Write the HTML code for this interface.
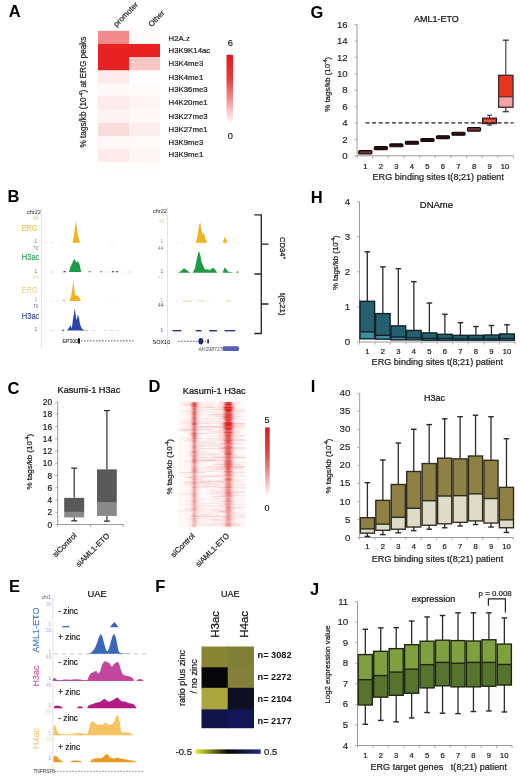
<!DOCTYPE html>
<html><head><meta charset="utf-8"><title>Figure</title>
<style>html,body{margin:0;padding:0;background:#fff;width:520px;height:776px;overflow:hidden;font-family:"Liberation Sans", sans-serif;} svg{display:block;filter:blur(0.35px);}</style>
</head><body>
<svg width="520" height="776" viewBox="0 0 520 776" font-family='"Liberation Sans", sans-serif'><defs><linearGradient id="gA" x1="0" y1="0" x2="0" y2="1"><stop offset="0" stop-color="#e81818"/><stop offset="0.35" stop-color="#e63c3c"/><stop offset="0.62" stop-color="#ef8a8a"/><stop offset="0.85" stop-color="#fad2d2"/><stop offset="1" stop-color="#ffffff"/></linearGradient><filter id="bl" x="-80%" y="-5%" width="260%" height="110%"><feGaussianBlur stdDeviation="0.8 0.3"/></filter><filter id="bl2" x="-80%" y="-5%" width="260%" height="110%"><feGaussianBlur stdDeviation="2.0 0.4"/></filter><linearGradient id="gD" x1="0" y1="0" x2="0" y2="1"><stop offset="0" stop-color="#dc1c1c"/><stop offset="0.35" stop-color="#e04040"/><stop offset="0.62" stop-color="#ec8a8a"/><stop offset="0.85" stop-color="#f8d0d4"/><stop offset="1" stop-color="#ffffff"/></linearGradient><linearGradient id="gF" x1="0" y1="0" x2="1" y2="0"><stop offset="0" stop-color="#e8ee30"/><stop offset="0.5" stop-color="#050505"/><stop offset="1" stop-color="#232a78"/></linearGradient></defs><rect width="520" height="776" fill="#fff"/><text x="8.7" y="17" font-size="16.5" fill="#000" text-anchor="start" font-weight="bold" >A</text>
<text x="7.4" y="201.5" font-size="16.5" fill="#000" text-anchor="start" font-weight="bold" >B</text>
<text x="7.5" y="393.7" font-size="16.5" fill="#000" text-anchor="start" font-weight="bold" >C</text>
<text x="148.5" y="392" font-size="16.5" fill="#000" text-anchor="start" font-weight="bold" >D</text>
<text x="9.1" y="592.2" font-size="16.5" fill="#000" text-anchor="start" font-weight="bold" >E</text>
<text x="155.3" y="592.3" font-size="16.5" fill="#000" text-anchor="start" font-weight="bold" >F</text>
<text x="310.6" y="18" font-size="16.5" fill="#000" text-anchor="start" font-weight="bold" >G</text>
<text x="310.7" y="203.2" font-size="16.5" fill="#000" text-anchor="start" font-weight="bold" >H</text>
<text x="310.65" y="392" font-size="16.5" fill="#000" text-anchor="start" font-weight="bold" >I</text>
<text x="310" y="594.5" font-size="16.5" fill="#000" text-anchor="start" font-weight="bold" >J</text>
<rect x="98.00" y="30.80" width="31.00" height="14.13" fill="#f28c8c" stroke="none" stroke-width="0" />
<rect x="129.00" y="30.80" width="31.00" height="14.13" fill="#fffbfb" stroke="none" stroke-width="0" />
<text x="168.6" y="41.3" font-size="7.8" fill="#222" text-anchor="start" font-weight="normal" stroke="#222" stroke-width="0.22" >H2A.z</text>
<rect x="98.00" y="43.93" width="31.00" height="14.13" fill="#e82222" stroke="none" stroke-width="0" />
<rect x="129.00" y="43.93" width="31.00" height="14.13" fill="#e82222" stroke="none" stroke-width="0" />
<text x="168.6" y="53.199999999999996" font-size="7.8" fill="#222" text-anchor="start" font-weight="normal" stroke="#222" stroke-width="0.22" >H3K9K14ac</text>
<rect x="98.00" y="57.06" width="31.00" height="14.13" fill="#e82222" stroke="none" stroke-width="0" />
<rect x="129.00" y="57.06" width="31.00" height="14.13" fill="#f9c6c6" stroke="none" stroke-width="0" />
<text x="168.6" y="66.3" font-size="7.8" fill="#222" text-anchor="start" font-weight="normal" stroke="#222" stroke-width="0.22" >H3K4me3</text>
<rect x="98.00" y="70.19" width="31.00" height="14.13" fill="#fdeaea" stroke="none" stroke-width="0" />
<rect x="129.00" y="70.19" width="31.00" height="14.13" fill="#fffdfd" stroke="none" stroke-width="0" />
<text x="168.6" y="79.60000000000001" font-size="7.8" fill="#222" text-anchor="start" font-weight="normal" stroke="#222" stroke-width="0.22" >H3K4me1</text>
<rect x="98.00" y="83.32" width="31.00" height="14.13" fill="#fff8f8" stroke="none" stroke-width="0" />
<rect x="129.00" y="83.32" width="31.00" height="14.13" fill="#fffbfb" stroke="none" stroke-width="0" />
<text x="168.6" y="92.30000000000001" font-size="7.8" fill="#222" text-anchor="start" font-weight="normal" stroke="#222" stroke-width="0.22" >H3K36me3</text>
<rect x="98.00" y="96.45" width="31.00" height="14.13" fill="#fdeaea" stroke="none" stroke-width="0" />
<rect x="129.00" y="96.45" width="31.00" height="14.13" fill="#fef4f4" stroke="none" stroke-width="0" />
<text x="168.6" y="105.4" font-size="7.8" fill="#222" text-anchor="start" font-weight="normal" stroke="#222" stroke-width="0.22" >H4K20me1</text>
<rect x="98.00" y="109.58" width="31.00" height="14.13" fill="#fef3f3" stroke="none" stroke-width="0" />
<rect x="129.00" y="109.58" width="31.00" height="14.13" fill="#fff8f8" stroke="none" stroke-width="0" />
<text x="168.6" y="119.2" font-size="7.8" fill="#222" text-anchor="start" font-weight="normal" stroke="#222" stroke-width="0.22" >H3K27me3</text>
<rect x="98.00" y="122.71" width="31.00" height="14.13" fill="#fbdcdc" stroke="none" stroke-width="0" />
<rect x="129.00" y="122.71" width="31.00" height="14.13" fill="#fdeeee" stroke="none" stroke-width="0" />
<text x="168.6" y="132.3" font-size="7.8" fill="#222" text-anchor="start" font-weight="normal" stroke="#222" stroke-width="0.22" >H3K27me1</text>
<rect x="98.00" y="135.84" width="31.00" height="14.13" fill="#fff7f7" stroke="none" stroke-width="0" />
<rect x="129.00" y="135.84" width="31.00" height="14.13" fill="#fffafa" stroke="none" stroke-width="0" />
<text x="168.6" y="145.20000000000002" font-size="7.8" fill="#222" text-anchor="start" font-weight="normal" stroke="#222" stroke-width="0.22" >H3K9me3</text>
<rect x="98.00" y="148.97" width="31.00" height="13.13" fill="#fdeaea" stroke="none" stroke-width="0" />
<rect x="129.00" y="148.97" width="31.00" height="13.13" fill="#fef5f5" stroke="none" stroke-width="0" />
<text x="168.6" y="156.8" font-size="7.8" fill="#222" text-anchor="start" font-weight="normal" stroke="#222" stroke-width="0.22" >H3K9me1</text>
<rect x="98.00" y="162.10" width="62.00" height="13.13" fill="#fffcfc" stroke="none" stroke-width="0" />
<text x="116.6" y="27.2" font-size="7.8" fill="#222" text-anchor="start" font-weight="normal" stroke="#222" stroke-width="0.22" transform="rotate(-45 116.6 27.2)">promoter</text>
<text x="151.4" y="27.2" font-size="7.8" fill="#222" text-anchor="start" font-weight="normal" stroke="#222" stroke-width="0.22" transform="rotate(-45 151.4 27.2)">Other</text>
<text x="86" y="92" font-size="8.2" fill="#222" text-anchor="middle" font-weight="normal" stroke="#222" stroke-width="0.22" transform="rotate(-90 86 92)">% tags/kb (10<tspan font-size="5.5" dy="-3">-4</tspan><tspan dy="3">) at ERG peaks</tspan></text>
<rect x="226.50" y="54.80" width="6.50" height="69.00" fill="url(#gA)" stroke="none" stroke-width="0" />
<text x="230.3" y="46" font-size="9.3" fill="#222" text-anchor="middle" font-weight="normal" stroke="#222" stroke-width="0.22" >6</text>
<text x="230.3" y="138.7" font-size="9.3" fill="#222" text-anchor="middle" font-weight="normal" stroke="#222" stroke-width="0.22" >0</text>
<line x1="41.50" y1="207.00" x2="41.50" y2="348.00" stroke="#e2ddd0" stroke-width="0.8" />
<line x1="167.50" y1="207.00" x2="167.50" y2="348.00" stroke="#e2ddd0" stroke-width="0.8" />
<text x="27" y="213.5" font-size="5.5" fill="#333" text-anchor="start" font-weight="normal" stroke="#333" stroke-width="0.05" >chr22</text>
<text x="153" y="212.5" font-size="5.5" fill="#333" text-anchor="start" font-weight="normal" stroke="#333" stroke-width="0.05" >chr22</text>
<text x="21.8" y="231.1" font-size="8.2" fill="#efc04a" text-anchor="start" font-weight="normal" stroke="#efc04a" stroke-width="0.1" textLength="15.6" lengthAdjust="spacingAndGlyphs">ERG</text>
<text x="21.8" y="260.3" font-size="8.2" fill="#239450" text-anchor="start" font-weight="normal" stroke="#239450" stroke-width="0.1" textLength="17.6" lengthAdjust="spacingAndGlyphs">H3ac</text>
<text x="21.8" y="292.6" font-size="8.2" fill="#ecd088" text-anchor="start" font-weight="normal" stroke="#ecd088" stroke-width="0.1" textLength="15.6" lengthAdjust="spacingAndGlyphs">ERG</text>
<text x="21.8" y="319.0" font-size="8.2" fill="#2c3f8c" text-anchor="start" font-weight="normal" stroke="#2c3f8c" stroke-width="0.1" textLength="17.6" lengthAdjust="spacingAndGlyphs">H3ac</text>
<text x="33" y="220" font-size="4.8" fill="#e2c878" text-anchor="start" font-weight="normal" >84</text>
<text x="34.5" y="243" font-size="4.8" fill="#777" text-anchor="start" font-weight="normal" >1</text>
<text x="33" y="249.5" font-size="4.8" fill="#5a9a78" text-anchor="start" font-weight="normal" >70</text>
<text x="34.5" y="272.5" font-size="4.8" fill="#666" text-anchor="start" font-weight="normal" >1</text>
<text x="33" y="279" font-size="4.8" fill="#e8d498" text-anchor="start" font-weight="normal" >84</text>
<text x="34.5" y="301" font-size="4.8" fill="#999" text-anchor="start" font-weight="normal" >1</text>
<text x="33" y="308" font-size="4.8" fill="#6070a8" text-anchor="start" font-weight="normal" >70</text>
<text x="34.5" y="331" font-size="4.8" fill="#666" text-anchor="start" font-weight="normal" >1</text>
<text x="159" y="223" font-size="4.8" fill="#e2d0a0" text-anchor="start" font-weight="normal" >42</text>
<text x="160.5" y="243" font-size="4.8" fill="#999" text-anchor="start" font-weight="normal" >1</text>
<text x="158" y="250" font-size="4.8" fill="#5a9a78" text-anchor="start" font-weight="normal" >44</text>
<text x="160.5" y="273" font-size="4.8" fill="#666" text-anchor="start" font-weight="normal" >1</text>
<text x="158" y="278.5" font-size="4.8" fill="#e8dcb8" text-anchor="start" font-weight="normal" >42</text>
<text x="160.5" y="302" font-size="4.8" fill="#aaa" text-anchor="start" font-weight="normal" >1</text>
<text x="158" y="307" font-size="4.8" fill="#555" text-anchor="start" font-weight="normal" >44</text>
<text x="160.5" y="331.5" font-size="4.8" fill="#555" text-anchor="start" font-weight="normal" >1</text>
<line x1="44.00" y1="242.70" x2="47.59" y2="242.70" stroke="#f6e6b8" stroke-width="0.8" />
<line x1="50.00" y1="242.70" x2="53.71" y2="242.70" stroke="#f6e6b8" stroke-width="0.8" />
<line x1="62.00" y1="242.70" x2="64.53" y2="242.70" stroke="#f6e6b8" stroke-width="0.8" />
<line x1="74.00" y1="242.70" x2="76.97" y2="242.70" stroke="#f6e6b8" stroke-width="0.8" />
<line x1="110.00" y1="242.70" x2="113.77" y2="242.70" stroke="#f6e6b8" stroke-width="0.8" />
<line x1="50.00" y1="272.00" x2="54.02" y2="272.00" stroke="#e0e0e0" stroke-width="0.8" />
<line x1="62.00" y1="272.00" x2="64.56" y2="272.00" stroke="#e0e0e0" stroke-width="0.8" />
<line x1="104.00" y1="272.00" x2="108.10" y2="272.00" stroke="#e0e0e0" stroke-width="0.8" />
<line x1="110.00" y1="272.00" x2="114.37" y2="272.00" stroke="#e0e0e0" stroke-width="0.8" />
<line x1="122.00" y1="272.00" x2="124.77" y2="272.00" stroke="#e0e0e0" stroke-width="0.8" />
<line x1="128.00" y1="272.00" x2="132.43" y2="272.00" stroke="#e0e0e0" stroke-width="0.8" />
<line x1="44.00" y1="301.00" x2="47.75" y2="301.00" stroke="#f6ecd0" stroke-width="0.8" />
<line x1="50.00" y1="301.00" x2="53.51" y2="301.00" stroke="#f6ecd0" stroke-width="0.8" />
<line x1="56.00" y1="301.00" x2="59.20" y2="301.00" stroke="#f6ecd0" stroke-width="0.8" />
<line x1="110.00" y1="301.00" x2="114.22" y2="301.00" stroke="#f6ecd0" stroke-width="0.8" />
<line x1="50.00" y1="330.50" x2="54.16" y2="330.50" stroke="#d4d8ea" stroke-width="0.8" />
<line x1="62.00" y1="330.50" x2="64.63" y2="330.50" stroke="#d4d8ea" stroke-width="0.8" />
<line x1="80.00" y1="330.50" x2="84.10" y2="330.50" stroke="#d4d8ea" stroke-width="0.8" />
<line x1="86.00" y1="330.50" x2="88.80" y2="330.50" stroke="#d4d8ea" stroke-width="0.8" />
<line x1="92.00" y1="330.50" x2="96.04" y2="330.50" stroke="#d4d8ea" stroke-width="0.8" />
<line x1="104.00" y1="330.50" x2="107.73" y2="330.50" stroke="#d4d8ea" stroke-width="0.8" />
<line x1="110.00" y1="330.50" x2="113.94" y2="330.50" stroke="#d4d8ea" stroke-width="0.8" />
<line x1="116.00" y1="330.50" x2="120.26" y2="330.50" stroke="#d4d8ea" stroke-width="0.8" />
<polygon points="72.40,242.70 74.00,235.00 75.90,220.40 77.80,235.00 80.00,242.70" fill="#f2b21e" />
<polygon points="69.00,272.00 70.50,266.50 72.00,264.00 73.00,261.00 74.40,259.10 75.50,261.00 76.50,262.50 78.00,261.20 79.50,264.00 80.30,268.00 81.20,272.00" fill="#1f9a45" />
<polygon points="69.30,301.00 71.00,297.00 72.30,289.00 73.30,280.20 74.40,290.00 75.30,295.50 77.00,295.30 79.00,297.00 81.00,301.00" fill="#f2b21e" />
<polygon points="67.00,330.50 68.80,328.00 70.60,325.20 71.80,328.50 73.20,318.00 74.90,308.30 76.00,318.00 76.80,320.00 77.90,314.40 79.00,318.00 80.00,324.00 81.50,328.00 83.50,330.00 88.00,330.50" fill="#2b45a5" />
<rect x="63.50" y="271.00" width="2.20" height="1.30" fill="#a04050" stroke="none" stroke-width="0" />
<rect x="88.50" y="271.00" width="2.20" height="1.30" fill="#888" stroke="none" stroke-width="0" />
<rect x="100.00" y="271.00" width="2.20" height="1.30" fill="#999" stroke="none" stroke-width="0" />
<rect x="112.00" y="271.00" width="2.20" height="1.30" fill="#666" stroke="none" stroke-width="0" />
<rect x="116.00" y="271.00" width="2.20" height="1.30" fill="#666" stroke="none" stroke-width="0" />
<rect x="63.00" y="299.90" width="2.20" height="1.30" fill="#d0b070" stroke="none" stroke-width="0" />
<rect x="62.00" y="329.60" width="2.20" height="1.30" fill="#666" stroke="none" stroke-width="0" />
<text x="62.4" y="343.1" font-size="5.2" fill="#222" text-anchor="start" font-weight="normal" stroke="#222" stroke-width="0.05" >EP300</text>
<rect x="77.90" y="338.30" width="2.10" height="5.20" fill="#111" stroke="none" stroke-width="0" />
<line x1="81.00" y1="340.90" x2="82.60" y2="340.90" stroke="#333" stroke-width="0.8" />
<line x1="84.00" y1="340.90" x2="85.60" y2="340.90" stroke="#333" stroke-width="0.8" />
<line x1="87.00" y1="340.90" x2="88.60" y2="340.90" stroke="#333" stroke-width="0.8" />
<line x1="90.00" y1="340.90" x2="91.60" y2="340.90" stroke="#333" stroke-width="0.8" />
<line x1="93.00" y1="340.90" x2="94.60" y2="340.90" stroke="#333" stroke-width="0.8" />
<line x1="96.00" y1="340.90" x2="97.60" y2="340.90" stroke="#333" stroke-width="0.8" />
<line x1="99.00" y1="340.90" x2="100.60" y2="340.90" stroke="#333" stroke-width="0.8" />
<line x1="102.00" y1="340.90" x2="103.60" y2="340.90" stroke="#333" stroke-width="0.8" />
<line x1="105.00" y1="340.90" x2="106.60" y2="340.90" stroke="#333" stroke-width="0.8" />
<line x1="108.00" y1="340.90" x2="109.60" y2="340.90" stroke="#333" stroke-width="0.8" />
<line x1="111.00" y1="340.90" x2="112.60" y2="340.90" stroke="#333" stroke-width="0.8" />
<line x1="114.00" y1="340.90" x2="115.60" y2="340.90" stroke="#333" stroke-width="0.8" />
<line x1="117.00" y1="340.90" x2="118.60" y2="340.90" stroke="#333" stroke-width="0.8" />
<line x1="120.00" y1="340.90" x2="121.60" y2="340.90" stroke="#333" stroke-width="0.8" />
<line x1="123.00" y1="340.90" x2="124.60" y2="340.90" stroke="#333" stroke-width="0.8" />
<line x1="126.00" y1="340.90" x2="127.60" y2="340.90" stroke="#333" stroke-width="0.8" />
<line x1="129.00" y1="340.90" x2="130.60" y2="340.90" stroke="#333" stroke-width="0.8" />
<line x1="132.00" y1="340.90" x2="133.60" y2="340.90" stroke="#333" stroke-width="0.8" />
<line x1="176.00" y1="242.80" x2="178.50" y2="242.80" stroke="#f4e2b0" stroke-width="0.7" />
<line x1="182.00" y1="242.80" x2="184.50" y2="242.80" stroke="#f4e2b0" stroke-width="0.7" />
<line x1="194.00" y1="242.80" x2="196.50" y2="242.80" stroke="#f4e2b0" stroke-width="0.7" />
<line x1="200.00" y1="242.80" x2="202.50" y2="242.80" stroke="#f4e2b0" stroke-width="0.7" />
<line x1="206.00" y1="242.80" x2="208.50" y2="242.80" stroke="#f4e2b0" stroke-width="0.7" />
<line x1="218.00" y1="242.80" x2="220.50" y2="242.80" stroke="#f4e2b0" stroke-width="0.7" />
<line x1="224.00" y1="242.80" x2="226.50" y2="242.80" stroke="#f4e2b0" stroke-width="0.7" />
<line x1="236.00" y1="242.80" x2="238.50" y2="242.80" stroke="#f4e2b0" stroke-width="0.7" />
<line x1="182.00" y1="272.80" x2="184.50" y2="272.80" stroke="#e4e4e4" stroke-width="0.7" />
<line x1="188.00" y1="272.80" x2="190.50" y2="272.80" stroke="#e4e4e4" stroke-width="0.7" />
<line x1="236.00" y1="272.80" x2="238.50" y2="272.80" stroke="#e4e4e4" stroke-width="0.7" />
<line x1="176.00" y1="301.30" x2="178.50" y2="301.30" stroke="#f6eed6" stroke-width="0.7" />
<line x1="182.00" y1="301.30" x2="184.50" y2="301.30" stroke="#f6eed6" stroke-width="0.7" />
<line x1="206.00" y1="301.30" x2="208.50" y2="301.30" stroke="#f6eed6" stroke-width="0.7" />
<line x1="212.00" y1="301.30" x2="214.50" y2="301.30" stroke="#f6eed6" stroke-width="0.7" />
<line x1="224.00" y1="301.30" x2="226.50" y2="301.30" stroke="#f6eed6" stroke-width="0.7" />
<line x1="170.00" y1="330.80" x2="172.50" y2="330.80" stroke="#d8dcee" stroke-width="0.7" />
<line x1="182.00" y1="330.80" x2="184.50" y2="330.80" stroke="#d8dcee" stroke-width="0.7" />
<line x1="194.00" y1="330.80" x2="196.50" y2="330.80" stroke="#d8dcee" stroke-width="0.7" />
<line x1="212.00" y1="330.80" x2="214.50" y2="330.80" stroke="#d8dcee" stroke-width="0.7" />
<line x1="218.00" y1="330.80" x2="220.50" y2="330.80" stroke="#d8dcee" stroke-width="0.7" />
<line x1="236.00" y1="330.80" x2="238.50" y2="330.80" stroke="#d8dcee" stroke-width="0.7" />
<polygon points="195.80,242.80 197.50,236.00 199.00,226.00 200.10,222.30 201.30,228.00 202.30,235.00 203.50,232.30 205.00,237.00 206.80,242.80" fill="#f2b21e" />
<polygon points="222.70,242.80 224.00,239.00 225.00,236.50 226.00,239.00 227.30,242.80" fill="#f2b21e" />
<polygon points="178.00,272.80 181.00,271.00 183.00,269.00 184.70,268.50 186.50,270.00 188.50,271.50 190.40,272.80" fill="#1f9a45" />
<polygon points="192.70,272.80 195.00,268.00 197.00,258.00 198.80,250.80 200.50,256.00 201.50,262.00 203.00,265.50 205.00,269.50 206.50,269.50 208.00,269.20 209.60,270.50 211.00,269.00 213.00,267.70 215.00,269.50 217.30,272.80" fill="#1f9a45" />
<polygon points="222.70,272.80 224.00,269.00 225.00,267.20 226.50,269.50 228.00,271.50 233.50,272.80" fill="#1f9a45" />
<polygon points="236.50,272.80 237.50,270.80 238.80,272.80" fill="#1f9a45" />
<rect x="183.00" y="300.50" width="9.00" height="1.20" fill="#ecd9a0" stroke="none" stroke-width="0" />
<rect x="198.70" y="300.50" width="5.70" height="1.20" fill="#ecd9a0" stroke="none" stroke-width="0" />
<rect x="226.50" y="300.50" width="4.80" height="1.20" fill="#ecd9a0" stroke="none" stroke-width="0" />
<rect x="172.70" y="330.00" width="8.60" height="1.40" fill="#2a3478" stroke="none" stroke-width="0" />
<rect x="195.80" y="330.00" width="5.70" height="1.40" fill="#2a3478" stroke="none" stroke-width="0" />
<rect x="209.20" y="330.00" width="7.80" height="1.40" fill="#2a3478" stroke="none" stroke-width="0" />
<rect x="224.60" y="330.00" width="10.60" height="1.40" fill="#2a3478" stroke="none" stroke-width="0" />
<text x="152.5" y="343.5" font-size="5.5" fill="#222" text-anchor="start" font-weight="normal" stroke="#222" stroke-width="0.05" >SOX10</text>
<line x1="178.00" y1="341.30" x2="179.60" y2="341.30" stroke="#333366" stroke-width="0.8" />
<line x1="181.00" y1="341.30" x2="182.60" y2="341.30" stroke="#333366" stroke-width="0.8" />
<line x1="184.00" y1="341.30" x2="185.60" y2="341.30" stroke="#333366" stroke-width="0.8" />
<line x1="187.00" y1="341.30" x2="188.60" y2="341.30" stroke="#333366" stroke-width="0.8" />
<line x1="190.00" y1="341.30" x2="191.60" y2="341.30" stroke="#333366" stroke-width="0.8" />
<line x1="193.00" y1="341.30" x2="194.60" y2="341.30" stroke="#333366" stroke-width="0.8" />
<line x1="196.00" y1="341.30" x2="197.60" y2="341.30" stroke="#333366" stroke-width="0.8" />
<ellipse cx="200.8" cy="341.3" rx="2.4" ry="3.3" fill="#252a70"/>
<rect x="207.20" y="339.30" width="1.80" height="4.00" fill="#252a70" stroke="none" stroke-width="0" />
<line x1="203.00" y1="341.30" x2="207.00" y2="341.30" stroke="#333366" stroke-width="0.8" stroke-dasharray="1,1"/>
<text x="198.5" y="350.5" font-size="5.2" fill="#555" text-anchor="start" font-weight="normal" >AK098727</text>
<rect x="222.50" y="346.30" width="16.50" height="4.60" fill="#5560b8" stroke="none" stroke-width="0" rx="1.5"/>
<path d="M254.4,214.8 H261.3 V333.5 H254.4 M261.3,244.2 H268.5 M254.4,274 H261.3 M261.3,304 H268.5" fill="none" stroke="#222" stroke-width="1.3"/>
<text x="280" y="237" font-size="7.6" fill="#111" text-anchor="start" font-weight="normal" stroke="#111" stroke-width="0.22" transform="rotate(90 280 237)">CD34<tspan font-size="4.8" dy="-3">+</tspan></text>
<text x="280" y="293" font-size="7.8" fill="#111" text-anchor="start" font-weight="normal" stroke="#111" stroke-width="0.22" transform="rotate(90 280 293)">t(8;21)</text>
<text x="57.5" y="393.3" font-size="9.2" fill="#111" text-anchor="start" font-weight="normal" stroke="#111" stroke-width="0.22" >Kasumi-1 H3ac</text>
<line x1="57.70" y1="401.50" x2="57.70" y2="524.50" stroke="#999" stroke-width="1" />
<line x1="57.70" y1="524.50" x2="123.30" y2="524.50" stroke="#999" stroke-width="1" />
<line x1="55.30" y1="524.50" x2="57.70" y2="524.50" stroke="#999" stroke-width="0.8" />
<text x="52" y="527.5" font-size="8.3" fill="#222" text-anchor="end" font-weight="normal" stroke="#222" stroke-width="0.22" >0</text>
<line x1="55.30" y1="512.25" x2="57.70" y2="512.25" stroke="#999" stroke-width="0.8" />
<text x="52" y="515.25" font-size="8.3" fill="#222" text-anchor="end" font-weight="normal" stroke="#222" stroke-width="0.22" >2</text>
<line x1="55.30" y1="500.00" x2="57.70" y2="500.00" stroke="#999" stroke-width="0.8" />
<text x="52" y="503.0" font-size="8.3" fill="#222" text-anchor="end" font-weight="normal" stroke="#222" stroke-width="0.22" >4</text>
<line x1="55.30" y1="487.75" x2="57.70" y2="487.75" stroke="#999" stroke-width="0.8" />
<text x="52" y="490.75" font-size="8.3" fill="#222" text-anchor="end" font-weight="normal" stroke="#222" stroke-width="0.22" >6</text>
<line x1="55.30" y1="475.50" x2="57.70" y2="475.50" stroke="#999" stroke-width="0.8" />
<text x="52" y="478.5" font-size="8.3" fill="#222" text-anchor="end" font-weight="normal" stroke="#222" stroke-width="0.22" >8</text>
<line x1="55.30" y1="463.25" x2="57.70" y2="463.25" stroke="#999" stroke-width="0.8" />
<text x="52" y="466.25" font-size="8.3" fill="#222" text-anchor="end" font-weight="normal" stroke="#222" stroke-width="0.22" >10</text>
<line x1="55.30" y1="451.00" x2="57.70" y2="451.00" stroke="#999" stroke-width="0.8" />
<text x="52" y="454.0" font-size="8.3" fill="#222" text-anchor="end" font-weight="normal" stroke="#222" stroke-width="0.22" >12</text>
<line x1="55.30" y1="438.75" x2="57.70" y2="438.75" stroke="#999" stroke-width="0.8" />
<text x="52" y="441.75" font-size="8.3" fill="#222" text-anchor="end" font-weight="normal" stroke="#222" stroke-width="0.22" >14</text>
<line x1="55.30" y1="426.50" x2="57.70" y2="426.50" stroke="#999" stroke-width="0.8" />
<text x="52" y="429.5" font-size="8.3" fill="#222" text-anchor="end" font-weight="normal" stroke="#222" stroke-width="0.22" >16</text>
<line x1="55.30" y1="414.25" x2="57.70" y2="414.25" stroke="#999" stroke-width="0.8" />
<text x="52" y="417.25" font-size="8.3" fill="#222" text-anchor="end" font-weight="normal" stroke="#222" stroke-width="0.22" >18</text>
<line x1="55.30" y1="402.00" x2="57.70" y2="402.00" stroke="#999" stroke-width="0.8" />
<text x="52" y="405.0" font-size="8.3" fill="#222" text-anchor="end" font-weight="normal" stroke="#222" stroke-width="0.22" >20</text>
<line x1="57.70" y1="524.50" x2="57.70" y2="527.00" stroke="#999" stroke-width="0.8" />
<line x1="90.50" y1="524.50" x2="90.50" y2="527.00" stroke="#999" stroke-width="0.8" />
<line x1="123.30" y1="524.50" x2="123.30" y2="527.00" stroke="#999" stroke-width="0.8" />
<line x1="74.20" y1="468.15" x2="74.20" y2="497.86" stroke="#333" stroke-width="1.2" />
<line x1="71.20" y1="468.15" x2="77.20" y2="468.15" stroke="#333" stroke-width="1.3" />
<line x1="74.20" y1="517.46" x2="74.20" y2="520.83" stroke="#333" stroke-width="1.2" />
<line x1="71.20" y1="520.83" x2="77.20" y2="520.83" stroke="#333" stroke-width="1.3" />
<rect x="64.20" y="497.86" width="20.00" height="14.09" fill="#595959" stroke="none" stroke-width="0" />
<rect x="64.20" y="511.94" width="20.00" height="5.51" fill="#8a8a8a" stroke="none" stroke-width="0" />
<line x1="106.90" y1="410.57" x2="106.90" y2="469.38" stroke="#333" stroke-width="1.2" />
<line x1="103.90" y1="410.57" x2="109.90" y2="410.57" stroke="#333" stroke-width="1.3" />
<line x1="106.90" y1="515.92" x2="106.90" y2="521.13" stroke="#333" stroke-width="1.2" />
<line x1="103.90" y1="521.13" x2="109.90" y2="521.13" stroke="#333" stroke-width="1.3" />
<rect x="97.00" y="469.38" width="19.80" height="33.38" fill="#595959" stroke="none" stroke-width="0" />
<rect x="97.00" y="502.76" width="19.80" height="13.17" fill="#8a8a8a" stroke="none" stroke-width="0" />
<text x="31.6" y="461.7" font-size="7.9" fill="#222" text-anchor="middle" font-weight="normal" stroke="#222" stroke-width="0.22" transform="rotate(-90 31.6 461.7)">% tags/kb (10<tspan font-size="5.2" dy="-3">-4</tspan><tspan dy="3">)</tspan></text>
<text x="55.8" y="557.5" font-size="7.7" fill="#222" text-anchor="start" font-weight="normal" stroke="#222" stroke-width="0.22" transform="rotate(-45 55.8 557.5)">siControl</text>
<text x="79" y="567.3" font-size="7.7" fill="#222" text-anchor="start" font-weight="normal" stroke="#222" stroke-width="0.22" transform="rotate(-45 79 567.3)">siAML1-ETO</text>
<text x="182.8" y="394" font-size="9.2" fill="#111" text-anchor="start" font-weight="normal" stroke="#111" stroke-width="0.22" >Kasumi-1 H3ac</text>
<g>
<rect x="178.00" y="401.50" width="67.50" height="125.50" fill="#fffafa" stroke="none" stroke-width="0" />
<rect x="180.41" y="401.50" width="40.85" height="1.00" fill="rgba(228,95,95,0.081)" stroke="none" stroke-width="0" />
<rect x="207.14" y="401.50" width="38.36" height="1.00" fill="rgba(228,95,95,0.052)" stroke="none" stroke-width="0" />
<rect x="181.49" y="402.90" width="11.63" height="0.60" fill="rgba(228,95,95,0.088)" stroke="none" stroke-width="0" />
<rect x="219.34" y="402.90" width="12.95" height="0.60" fill="rgba(228,95,95,0.086)" stroke="none" stroke-width="0" />
<rect x="180.48" y="403.90" width="16.84" height="0.60" fill="rgba(228,95,95,0.119)" stroke="none" stroke-width="0" />
<rect x="184.66" y="403.90" width="24.77" height="0.60" fill="rgba(228,95,95,0.112)" stroke="none" stroke-width="0" />
<rect x="206.55" y="403.90" width="30.41" height="0.60" fill="rgba(228,95,95,0.108)" stroke="none" stroke-width="0" />
<rect x="183.15" y="403.90" width="30.85" height="0.60" fill="rgba(228,95,95,0.143)" stroke="none" stroke-width="0" />
<rect x="181.14" y="404.90" width="10.38" height="1.00" fill="rgba(228,95,95,0.110)" stroke="none" stroke-width="0" />
<rect x="212.02" y="404.90" width="25.10" height="1.00" fill="rgba(228,95,95,0.058)" stroke="none" stroke-width="0" />
<rect x="196.08" y="406.60" width="17.94" height="1.20" fill="rgba(228,95,95,0.221)" stroke="none" stroke-width="0" />
<rect x="216.99" y="406.60" width="11.27" height="1.20" fill="rgba(228,95,95,0.056)" stroke="none" stroke-width="0" />
<rect x="202.76" y="406.60" width="21.74" height="1.20" fill="rgba(228,95,95,0.068)" stroke="none" stroke-width="0" />
<rect x="208.45" y="406.60" width="10.93" height="1.20" fill="rgba(228,95,95,0.090)" stroke="none" stroke-width="0" />
<rect x="202.45" y="408.80" width="9.57" height="0.80" fill="rgba(228,95,95,0.055)" stroke="none" stroke-width="0" />
<rect x="216.23" y="408.80" width="29.27" height="0.80" fill="rgba(228,95,95,0.139)" stroke="none" stroke-width="0" />
<rect x="193.69" y="408.80" width="35.81" height="0.80" fill="rgba(228,95,95,0.203)" stroke="none" stroke-width="0" />
<rect x="225.23" y="410.60" width="20.27" height="1.20" fill="rgba(228,95,95,0.191)" stroke="none" stroke-width="0" />
<rect x="181.03" y="410.60" width="36.06" height="1.20" fill="rgba(228,95,95,0.138)" stroke="none" stroke-width="0" />
<rect x="211.43" y="412.80" width="8.90" height="1.00" fill="rgba(228,95,95,0.080)" stroke="none" stroke-width="0" />
<rect x="186.40" y="412.80" width="12.68" height="1.00" fill="rgba(228,95,95,0.093)" stroke="none" stroke-width="0" />
<rect x="216.41" y="412.80" width="13.17" height="1.00" fill="rgba(228,95,95,0.051)" stroke="none" stroke-width="0" />
<rect x="197.55" y="412.80" width="42.86" height="1.00" fill="rgba(228,95,95,0.062)" stroke="none" stroke-width="0" />
<rect x="191.89" y="414.00" width="13.48" height="0.80" fill="rgba(228,95,95,0.082)" stroke="none" stroke-width="0" />
<rect x="205.51" y="414.00" width="36.26" height="0.80" fill="rgba(228,95,95,0.087)" stroke="none" stroke-width="0" />
<rect x="212.14" y="414.00" width="23.22" height="0.80" fill="rgba(228,95,95,0.245)" stroke="none" stroke-width="0" />
<rect x="189.60" y="415.20" width="17.33" height="0.80" fill="rgba(228,95,95,0.056)" stroke="none" stroke-width="0" />
<rect x="207.46" y="415.20" width="18.51" height="0.80" fill="rgba(228,95,95,0.097)" stroke="none" stroke-width="0" />
<rect x="208.49" y="416.20" width="20.74" height="0.80" fill="rgba(228,95,95,0.107)" stroke="none" stroke-width="0" />
<rect x="220.96" y="416.20" width="24.54" height="0.80" fill="rgba(228,95,95,0.053)" stroke="none" stroke-width="0" />
<rect x="214.99" y="416.20" width="26.27" height="0.80" fill="rgba(228,95,95,0.136)" stroke="none" stroke-width="0" />
<rect x="202.08" y="418.00" width="24.02" height="1.20" fill="rgba(228,95,95,0.081)" stroke="none" stroke-width="0" />
<rect x="227.23" y="418.00" width="18.27" height="1.20" fill="rgba(228,95,95,0.057)" stroke="none" stroke-width="0" />
<rect x="208.04" y="418.00" width="12.10" height="1.20" fill="rgba(228,95,95,0.052)" stroke="none" stroke-width="0" />
<rect x="181.52" y="419.60" width="16.32" height="0.60" fill="rgba(228,95,95,0.125)" stroke="none" stroke-width="0" />
<rect x="209.72" y="419.60" width="35.78" height="0.60" fill="rgba(228,95,95,0.078)" stroke="none" stroke-width="0" />
<rect x="201.71" y="419.60" width="12.61" height="0.60" fill="rgba(228,95,95,0.123)" stroke="none" stroke-width="0" />
<rect x="182.29" y="421.20" width="12.09" height="1.20" fill="rgba(228,95,95,0.097)" stroke="none" stroke-width="0" />
<rect x="191.24" y="421.20" width="41.15" height="1.20" fill="rgba(228,95,95,0.073)" stroke="none" stroke-width="0" />
<rect x="179.15" y="421.20" width="46.04" height="1.20" fill="rgba(228,95,95,0.055)" stroke="none" stroke-width="0" />
<rect x="179.35" y="423.10" width="29.12" height="0.80" fill="rgba(228,95,95,0.109)" stroke="none" stroke-width="0" />
<rect x="221.17" y="423.10" width="24.33" height="0.80" fill="rgba(228,95,95,0.241)" stroke="none" stroke-width="0" />
<rect x="196.33" y="423.10" width="14.68" height="0.80" fill="rgba(228,95,95,0.064)" stroke="none" stroke-width="0" />
<rect x="204.63" y="423.10" width="39.16" height="0.80" fill="rgba(228,95,95,0.169)" stroke="none" stroke-width="0" />
<rect x="227.25" y="424.60" width="18.25" height="0.80" fill="rgba(228,95,95,0.182)" stroke="none" stroke-width="0" />
<rect x="218.92" y="424.60" width="26.58" height="0.80" fill="rgba(228,95,95,0.180)" stroke="none" stroke-width="0" />
<rect x="203.88" y="424.60" width="22.22" height="0.80" fill="rgba(228,95,95,0.060)" stroke="none" stroke-width="0" />
<rect x="179.40" y="424.60" width="19.18" height="0.80" fill="rgba(228,95,95,0.050)" stroke="none" stroke-width="0" />
<rect x="195.21" y="426.10" width="40.34" height="0.80" fill="rgba(228,95,95,0.123)" stroke="none" stroke-width="0" />
<rect x="195.48" y="426.10" width="46.98" height="0.80" fill="rgba(228,95,95,0.155)" stroke="none" stroke-width="0" />
<rect x="183.11" y="426.10" width="26.80" height="0.80" fill="rgba(228,95,95,0.051)" stroke="none" stroke-width="0" />
<rect x="202.13" y="426.10" width="43.37" height="0.80" fill="rgba(228,95,95,0.073)" stroke="none" stroke-width="0" />
<rect x="210.16" y="427.10" width="35.34" height="1.20" fill="rgba(228,95,95,0.074)" stroke="none" stroke-width="0" />
<rect x="197.43" y="427.10" width="36.46" height="1.20" fill="rgba(228,95,95,0.053)" stroke="none" stroke-width="0" />
<rect x="222.45" y="427.10" width="23.05" height="1.20" fill="rgba(228,95,95,0.058)" stroke="none" stroke-width="0" />
<rect x="182.34" y="427.10" width="45.85" height="1.20" fill="rgba(228,95,95,0.131)" stroke="none" stroke-width="0" />
<rect x="182.25" y="429.30" width="14.35" height="1.20" fill="rgba(228,95,95,0.161)" stroke="none" stroke-width="0" />
<rect x="179.38" y="429.30" width="31.63" height="1.20" fill="rgba(228,95,95,0.247)" stroke="none" stroke-width="0" />
<rect x="210.79" y="429.30" width="32.46" height="1.20" fill="rgba(228,95,95,0.093)" stroke="none" stroke-width="0" />
<rect x="184.55" y="431.50" width="8.57" height="1.00" fill="rgba(228,95,95,0.110)" stroke="none" stroke-width="0" />
<rect x="210.48" y="431.50" width="29.06" height="1.00" fill="rgba(228,95,95,0.239)" stroke="none" stroke-width="0" />
<rect x="188.55" y="432.90" width="18.07" height="1.20" fill="rgba(228,95,95,0.187)" stroke="none" stroke-width="0" />
<rect x="190.03" y="432.90" width="31.46" height="1.20" fill="rgba(228,95,95,0.067)" stroke="none" stroke-width="0" />
<rect x="215.00" y="434.80" width="30.50" height="1.20" fill="rgba(228,95,95,0.051)" stroke="none" stroke-width="0" />
<rect x="218.75" y="434.80" width="26.75" height="1.20" fill="rgba(228,95,95,0.138)" stroke="none" stroke-width="0" />
<rect x="221.64" y="436.40" width="23.86" height="0.80" fill="rgba(228,95,95,0.102)" stroke="none" stroke-width="0" />
<rect x="216.80" y="436.40" width="13.99" height="0.80" fill="rgba(228,95,95,0.124)" stroke="none" stroke-width="0" />
<rect x="208.96" y="436.40" width="12.81" height="0.80" fill="rgba(228,95,95,0.054)" stroke="none" stroke-width="0" />
<rect x="212.12" y="436.40" width="29.23" height="0.80" fill="rgba(228,95,95,0.051)" stroke="none" stroke-width="0" />
<rect x="187.57" y="438.20" width="9.69" height="0.60" fill="rgba(228,95,95,0.051)" stroke="none" stroke-width="0" />
<rect x="200.61" y="438.20" width="9.11" height="0.60" fill="rgba(228,95,95,0.052)" stroke="none" stroke-width="0" />
<rect x="181.17" y="438.20" width="21.02" height="0.60" fill="rgba(228,95,95,0.210)" stroke="none" stroke-width="0" />
<rect x="208.31" y="438.20" width="15.98" height="0.60" fill="rgba(228,95,95,0.239)" stroke="none" stroke-width="0" />
<rect x="201.90" y="439.50" width="43.60" height="1.20" fill="rgba(228,95,95,0.107)" stroke="none" stroke-width="0" />
<rect x="221.83" y="439.50" width="23.67" height="1.20" fill="rgba(228,95,95,0.148)" stroke="none" stroke-width="0" />
<rect x="205.98" y="439.50" width="39.52" height="1.20" fill="rgba(228,95,95,0.063)" stroke="none" stroke-width="0" />
<rect x="184.86" y="439.50" width="12.86" height="1.20" fill="rgba(228,95,95,0.191)" stroke="none" stroke-width="0" />
<rect x="199.42" y="441.70" width="16.51" height="1.00" fill="rgba(228,95,95,0.140)" stroke="none" stroke-width="0" />
<rect x="184.12" y="441.70" width="39.08" height="1.00" fill="rgba(228,95,95,0.068)" stroke="none" stroke-width="0" />
<rect x="226.38" y="443.40" width="16.78" height="0.80" fill="rgba(228,95,95,0.206)" stroke="none" stroke-width="0" />
<rect x="197.91" y="443.40" width="27.49" height="0.80" fill="rgba(228,95,95,0.231)" stroke="none" stroke-width="0" />
<rect x="219.62" y="443.40" width="14.46" height="0.80" fill="rgba(228,95,95,0.246)" stroke="none" stroke-width="0" />
<rect x="195.83" y="445.20" width="11.69" height="1.20" fill="rgba(228,95,95,0.085)" stroke="none" stroke-width="0" />
<rect x="194.90" y="445.20" width="26.35" height="1.20" fill="rgba(228,95,95,0.077)" stroke="none" stroke-width="0" />
<rect x="197.22" y="445.20" width="28.70" height="1.20" fill="rgba(228,95,95,0.149)" stroke="none" stroke-width="0" />
<rect x="217.42" y="447.10" width="28.08" height="0.60" fill="rgba(228,95,95,0.244)" stroke="none" stroke-width="0" />
<rect x="191.28" y="447.10" width="9.58" height="0.60" fill="rgba(228,95,95,0.052)" stroke="none" stroke-width="0" />
<rect x="220.48" y="448.10" width="25.02" height="1.00" fill="rgba(228,95,95,0.184)" stroke="none" stroke-width="0" />
<rect x="198.30" y="448.10" width="29.46" height="1.00" fill="rgba(228,95,95,0.229)" stroke="none" stroke-width="0" />
<rect x="217.98" y="450.10" width="15.33" height="1.00" fill="rgba(228,95,95,0.066)" stroke="none" stroke-width="0" />
<rect x="191.45" y="450.10" width="8.67" height="1.00" fill="rgba(228,95,95,0.210)" stroke="none" stroke-width="0" />
<rect x="189.12" y="451.30" width="18.58" height="1.00" fill="rgba(228,95,95,0.124)" stroke="none" stroke-width="0" />
<rect x="178.58" y="451.30" width="47.77" height="1.00" fill="rgba(228,95,95,0.053)" stroke="none" stroke-width="0" />
<rect x="204.35" y="453.30" width="17.54" height="1.00" fill="rgba(228,95,95,0.053)" stroke="none" stroke-width="0" />
<rect x="186.07" y="453.30" width="10.02" height="1.00" fill="rgba(228,95,95,0.052)" stroke="none" stroke-width="0" />
<rect x="193.60" y="453.30" width="20.20" height="1.00" fill="rgba(228,95,95,0.058)" stroke="none" stroke-width="0" />
<rect x="192.50" y="453.30" width="28.00" height="1.00" fill="rgba(228,95,95,0.165)" stroke="none" stroke-width="0" />
<rect x="227.72" y="454.70" width="9.48" height="1.00" fill="rgba(228,95,95,0.179)" stroke="none" stroke-width="0" />
<rect x="203.28" y="454.70" width="42.22" height="1.00" fill="rgba(228,95,95,0.050)" stroke="none" stroke-width="0" />
<rect x="190.28" y="454.70" width="25.88" height="1.00" fill="rgba(228,95,95,0.103)" stroke="none" stroke-width="0" />
<rect x="197.65" y="456.70" width="28.27" height="1.20" fill="rgba(228,95,95,0.189)" stroke="none" stroke-width="0" />
<rect x="227.12" y="456.70" width="18.38" height="1.20" fill="rgba(228,95,95,0.145)" stroke="none" stroke-width="0" />
<rect x="213.34" y="456.70" width="32.16" height="1.20" fill="rgba(228,95,95,0.189)" stroke="none" stroke-width="0" />
<rect x="195.38" y="456.70" width="10.18" height="1.20" fill="rgba(228,95,95,0.083)" stroke="none" stroke-width="0" />
<rect x="221.99" y="458.30" width="23.51" height="0.60" fill="rgba(228,95,95,0.128)" stroke="none" stroke-width="0" />
<rect x="211.26" y="458.30" width="23.24" height="0.60" fill="rgba(228,95,95,0.051)" stroke="none" stroke-width="0" />
<rect x="200.97" y="459.60" width="14.30" height="0.80" fill="rgba(228,95,95,0.067)" stroke="none" stroke-width="0" />
<rect x="191.16" y="459.60" width="46.47" height="0.80" fill="rgba(228,95,95,0.090)" stroke="none" stroke-width="0" />
<rect x="205.35" y="459.60" width="17.78" height="0.80" fill="rgba(228,95,95,0.239)" stroke="none" stroke-width="0" />
<rect x="193.48" y="459.60" width="22.26" height="0.80" fill="rgba(228,95,95,0.237)" stroke="none" stroke-width="0" />
<rect x="191.95" y="460.60" width="34.24" height="1.00" fill="rgba(228,95,95,0.051)" stroke="none" stroke-width="0" />
<rect x="216.81" y="460.60" width="11.63" height="1.00" fill="rgba(228,95,95,0.062)" stroke="none" stroke-width="0" />
<rect x="185.19" y="460.60" width="31.47" height="1.00" fill="rgba(228,95,95,0.184)" stroke="none" stroke-width="0" />
<rect x="189.64" y="462.60" width="31.42" height="0.60" fill="rgba(228,95,95,0.069)" stroke="none" stroke-width="0" />
<rect x="215.53" y="462.60" width="29.97" height="0.60" fill="rgba(228,95,95,0.106)" stroke="none" stroke-width="0" />
<rect x="221.95" y="462.60" width="23.55" height="0.60" fill="rgba(228,95,95,0.153)" stroke="none" stroke-width="0" />
<rect x="208.94" y="463.90" width="13.79" height="1.20" fill="rgba(228,95,95,0.066)" stroke="none" stroke-width="0" />
<rect x="213.75" y="463.90" width="28.52" height="1.20" fill="rgba(228,95,95,0.186)" stroke="none" stroke-width="0" />
<rect x="206.42" y="466.10" width="39.08" height="0.80" fill="rgba(228,95,95,0.163)" stroke="none" stroke-width="0" />
<rect x="212.32" y="466.10" width="33.18" height="0.80" fill="rgba(228,95,95,0.050)" stroke="none" stroke-width="0" />
<rect x="225.80" y="466.10" width="19.70" height="0.80" fill="rgba(228,95,95,0.151)" stroke="none" stroke-width="0" />
<rect x="180.09" y="466.10" width="33.48" height="0.80" fill="rgba(228,95,95,0.051)" stroke="none" stroke-width="0" />
<rect x="209.39" y="467.10" width="33.05" height="1.20" fill="rgba(228,95,95,0.112)" stroke="none" stroke-width="0" />
<rect x="202.46" y="467.10" width="8.13" height="1.20" fill="rgba(228,95,95,0.143)" stroke="none" stroke-width="0" />
<rect x="215.41" y="467.10" width="28.12" height="1.20" fill="rgba(228,95,95,0.177)" stroke="none" stroke-width="0" />
<rect x="190.61" y="468.50" width="10.98" height="0.60" fill="rgba(228,95,95,0.159)" stroke="none" stroke-width="0" />
<rect x="214.47" y="468.50" width="16.21" height="0.60" fill="rgba(228,95,95,0.064)" stroke="none" stroke-width="0" />
<rect x="226.79" y="468.50" width="18.71" height="0.60" fill="rgba(228,95,95,0.159)" stroke="none" stroke-width="0" />
<rect x="201.95" y="468.50" width="35.35" height="0.60" fill="rgba(228,95,95,0.079)" stroke="none" stroke-width="0" />
<rect x="194.59" y="469.30" width="34.06" height="0.80" fill="rgba(228,95,95,0.122)" stroke="none" stroke-width="0" />
<rect x="209.06" y="469.30" width="13.34" height="0.80" fill="rgba(228,95,95,0.146)" stroke="none" stroke-width="0" />
<rect x="211.60" y="471.10" width="33.90" height="0.60" fill="rgba(228,95,95,0.064)" stroke="none" stroke-width="0" />
<rect x="192.54" y="471.10" width="28.66" height="0.60" fill="rgba(228,95,95,0.141)" stroke="none" stroke-width="0" />
<rect x="201.32" y="471.10" width="12.74" height="0.60" fill="rgba(228,95,95,0.093)" stroke="none" stroke-width="0" />
<rect x="178.88" y="472.10" width="26.36" height="1.00" fill="rgba(228,95,95,0.225)" stroke="none" stroke-width="0" />
<rect x="226.41" y="472.10" width="19.09" height="1.00" fill="rgba(228,95,95,0.184)" stroke="none" stroke-width="0" />
<rect x="224.53" y="473.80" width="10.98" height="1.20" fill="rgba(228,95,95,0.218)" stroke="none" stroke-width="0" />
<rect x="215.37" y="473.80" width="18.47" height="1.20" fill="rgba(228,95,95,0.052)" stroke="none" stroke-width="0" />
<rect x="203.44" y="475.70" width="42.06" height="0.80" fill="rgba(228,95,95,0.185)" stroke="none" stroke-width="0" />
<rect x="189.57" y="475.70" width="43.91" height="0.80" fill="rgba(228,95,95,0.149)" stroke="none" stroke-width="0" />
<rect x="179.24" y="475.70" width="8.14" height="0.80" fill="rgba(228,95,95,0.097)" stroke="none" stroke-width="0" />
<rect x="200.54" y="475.70" width="20.08" height="0.80" fill="rgba(228,95,95,0.098)" stroke="none" stroke-width="0" />
<rect x="184.05" y="476.90" width="21.25" height="1.20" fill="rgba(228,95,95,0.078)" stroke="none" stroke-width="0" />
<rect x="194.91" y="476.90" width="23.93" height="1.20" fill="rgba(228,95,95,0.071)" stroke="none" stroke-width="0" />
<rect x="187.79" y="476.90" width="8.47" height="1.20" fill="rgba(228,95,95,0.227)" stroke="none" stroke-width="0" />
<rect x="197.51" y="478.80" width="42.80" height="1.00" fill="rgba(228,95,95,0.051)" stroke="none" stroke-width="0" />
<rect x="224.27" y="478.80" width="21.23" height="1.00" fill="rgba(228,95,95,0.051)" stroke="none" stroke-width="0" />
<rect x="192.03" y="478.80" width="10.06" height="1.00" fill="rgba(228,95,95,0.196)" stroke="none" stroke-width="0" />
<rect x="199.81" y="480.50" width="20.62" height="0.80" fill="rgba(228,95,95,0.239)" stroke="none" stroke-width="0" />
<rect x="217.26" y="480.50" width="25.11" height="0.80" fill="rgba(228,95,95,0.170)" stroke="none" stroke-width="0" />
<rect x="213.98" y="481.50" width="9.98" height="1.20" fill="rgba(228,95,95,0.110)" stroke="none" stroke-width="0" />
<rect x="200.54" y="481.50" width="38.11" height="1.20" fill="rgba(228,95,95,0.157)" stroke="none" stroke-width="0" />
<rect x="192.31" y="481.50" width="9.96" height="1.20" fill="rgba(228,95,95,0.133)" stroke="none" stroke-width="0" />
<rect x="184.37" y="481.50" width="26.89" height="1.20" fill="rgba(228,95,95,0.222)" stroke="none" stroke-width="0" />
<rect x="214.94" y="483.40" width="30.56" height="1.00" fill="rgba(228,95,95,0.063)" stroke="none" stroke-width="0" />
<rect x="189.93" y="483.40" width="27.33" height="1.00" fill="rgba(228,95,95,0.083)" stroke="none" stroke-width="0" />
<rect x="183.99" y="483.40" width="33.73" height="1.00" fill="rgba(228,95,95,0.139)" stroke="none" stroke-width="0" />
<rect x="202.85" y="484.60" width="16.80" height="0.80" fill="rgba(228,95,95,0.214)" stroke="none" stroke-width="0" />
<rect x="227.82" y="484.60" width="17.68" height="0.80" fill="rgba(228,95,95,0.214)" stroke="none" stroke-width="0" />
<rect x="187.62" y="484.60" width="11.63" height="0.80" fill="rgba(228,95,95,0.054)" stroke="none" stroke-width="0" />
<rect x="182.55" y="484.60" width="17.57" height="0.80" fill="rgba(228,95,95,0.073)" stroke="none" stroke-width="0" />
<rect x="198.64" y="486.10" width="24.56" height="0.80" fill="rgba(228,95,95,0.162)" stroke="none" stroke-width="0" />
<rect x="196.84" y="486.10" width="21.53" height="0.80" fill="rgba(228,95,95,0.105)" stroke="none" stroke-width="0" />
<rect x="196.01" y="487.10" width="35.47" height="1.20" fill="rgba(228,95,95,0.116)" stroke="none" stroke-width="0" />
<rect x="217.52" y="487.10" width="27.98" height="1.20" fill="rgba(228,95,95,0.106)" stroke="none" stroke-width="0" />
<rect x="222.84" y="487.10" width="22.66" height="1.20" fill="rgba(228,95,95,0.052)" stroke="none" stroke-width="0" />
<rect x="221.64" y="489.30" width="8.87" height="1.20" fill="rgba(228,95,95,0.194)" stroke="none" stroke-width="0" />
<rect x="213.48" y="489.30" width="32.02" height="1.20" fill="rgba(228,95,95,0.050)" stroke="none" stroke-width="0" />
<rect x="207.36" y="489.30" width="8.01" height="1.20" fill="rgba(228,95,95,0.095)" stroke="none" stroke-width="0" />
<rect x="183.45" y="491.50" width="14.18" height="1.20" fill="rgba(228,95,95,0.062)" stroke="none" stroke-width="0" />
<rect x="212.10" y="491.50" width="33.40" height="1.20" fill="rgba(228,95,95,0.105)" stroke="none" stroke-width="0" />
<rect x="210.37" y="491.50" width="35.13" height="1.20" fill="rgba(228,95,95,0.154)" stroke="none" stroke-width="0" />
<rect x="178.07" y="493.70" width="13.03" height="0.60" fill="rgba(228,95,95,0.171)" stroke="none" stroke-width="0" />
<rect x="179.88" y="493.70" width="36.60" height="0.60" fill="rgba(228,95,95,0.115)" stroke="none" stroke-width="0" />
<rect x="209.32" y="493.70" width="29.13" height="0.60" fill="rgba(228,95,95,0.235)" stroke="none" stroke-width="0" />
<rect x="216.19" y="493.70" width="11.98" height="0.60" fill="rgba(228,95,95,0.088)" stroke="none" stroke-width="0" />
<rect x="217.52" y="495.00" width="8.05" height="0.80" fill="rgba(228,95,95,0.064)" stroke="none" stroke-width="0" />
<rect x="227.82" y="495.00" width="17.68" height="0.80" fill="rgba(228,95,95,0.108)" stroke="none" stroke-width="0" />
<rect x="219.97" y="495.00" width="17.69" height="0.80" fill="rgba(228,95,95,0.070)" stroke="none" stroke-width="0" />
<rect x="213.23" y="496.20" width="20.30" height="0.80" fill="rgba(228,95,95,0.235)" stroke="none" stroke-width="0" />
<rect x="202.92" y="496.20" width="34.98" height="0.80" fill="rgba(228,95,95,0.050)" stroke="none" stroke-width="0" />
<rect x="199.22" y="498.00" width="22.81" height="0.60" fill="rgba(228,95,95,0.060)" stroke="none" stroke-width="0" />
<rect x="212.79" y="498.00" width="32.71" height="0.60" fill="rgba(228,95,95,0.099)" stroke="none" stroke-width="0" />
<rect x="197.82" y="498.00" width="8.27" height="0.60" fill="rgba(228,95,95,0.076)" stroke="none" stroke-width="0" />
<rect x="188.02" y="499.30" width="38.63" height="0.60" fill="rgba(228,95,95,0.099)" stroke="none" stroke-width="0" />
<rect x="201.26" y="499.30" width="18.60" height="0.60" fill="rgba(228,95,95,0.058)" stroke="none" stroke-width="0" />
<rect x="187.37" y="500.60" width="16.93" height="0.60" fill="rgba(228,95,95,0.099)" stroke="none" stroke-width="0" />
<rect x="211.26" y="500.60" width="34.24" height="0.60" fill="rgba(228,95,95,0.085)" stroke="none" stroke-width="0" />
<rect x="197.67" y="500.60" width="16.52" height="0.60" fill="rgba(228,95,95,0.054)" stroke="none" stroke-width="0" />
<rect x="185.10" y="500.60" width="10.07" height="0.60" fill="rgba(228,95,95,0.240)" stroke="none" stroke-width="0" />
<rect x="213.60" y="501.40" width="20.57" height="0.80" fill="rgba(228,95,95,0.090)" stroke="none" stroke-width="0" />
<rect x="181.97" y="501.40" width="14.63" height="0.80" fill="rgba(228,95,95,0.053)" stroke="none" stroke-width="0" />
<rect x="210.62" y="501.40" width="28.99" height="0.80" fill="rgba(228,95,95,0.057)" stroke="none" stroke-width="0" />
<rect x="196.93" y="503.20" width="22.96" height="0.60" fill="rgba(228,95,95,0.138)" stroke="none" stroke-width="0" />
<rect x="186.46" y="503.20" width="8.11" height="0.60" fill="rgba(228,95,95,0.072)" stroke="none" stroke-width="0" />
<rect x="195.57" y="503.20" width="46.22" height="0.60" fill="rgba(228,95,95,0.066)" stroke="none" stroke-width="0" />
<rect x="219.08" y="504.00" width="26.42" height="0.80" fill="rgba(228,95,95,0.075)" stroke="none" stroke-width="0" />
<rect x="180.46" y="504.00" width="26.94" height="0.80" fill="rgba(228,95,95,0.087)" stroke="none" stroke-width="0" />
<rect x="223.98" y="504.00" width="15.72" height="0.80" fill="rgba(228,95,95,0.078)" stroke="none" stroke-width="0" />
<rect x="190.40" y="505.50" width="33.02" height="1.20" fill="rgba(228,95,95,0.130)" stroke="none" stroke-width="0" />
<rect x="196.78" y="505.50" width="26.56" height="1.20" fill="rgba(228,95,95,0.083)" stroke="none" stroke-width="0" />
<rect x="222.93" y="506.90" width="21.56" height="1.00" fill="rgba(228,95,95,0.162)" stroke="none" stroke-width="0" />
<rect x="225.88" y="506.90" width="19.62" height="1.00" fill="rgba(228,95,95,0.065)" stroke="none" stroke-width="0" />
<rect x="214.08" y="508.60" width="31.42" height="1.00" fill="rgba(228,95,95,0.068)" stroke="none" stroke-width="0" />
<rect x="225.32" y="508.60" width="10.61" height="1.00" fill="rgba(228,95,95,0.180)" stroke="none" stroke-width="0" />
<rect x="183.36" y="508.60" width="36.62" height="1.00" fill="rgba(228,95,95,0.186)" stroke="none" stroke-width="0" />
<rect x="218.74" y="510.60" width="13.31" height="1.20" fill="rgba(228,95,95,0.217)" stroke="none" stroke-width="0" />
<rect x="178.44" y="510.60" width="45.24" height="1.20" fill="rgba(228,95,95,0.099)" stroke="none" stroke-width="0" />
<rect x="212.61" y="510.60" width="14.05" height="1.20" fill="rgba(228,95,95,0.068)" stroke="none" stroke-width="0" />
<rect x="217.19" y="512.20" width="28.31" height="1.00" fill="rgba(228,95,95,0.092)" stroke="none" stroke-width="0" />
<rect x="197.58" y="512.20" width="14.40" height="1.00" fill="rgba(228,95,95,0.102)" stroke="none" stroke-width="0" />
<rect x="210.48" y="512.20" width="27.27" height="1.00" fill="rgba(228,95,95,0.083)" stroke="none" stroke-width="0" />
<rect x="227.39" y="513.90" width="18.11" height="0.80" fill="rgba(228,95,95,0.206)" stroke="none" stroke-width="0" />
<rect x="182.82" y="513.90" width="27.94" height="0.80" fill="rgba(228,95,95,0.051)" stroke="none" stroke-width="0" />
<rect x="200.35" y="513.90" width="17.37" height="0.80" fill="rgba(228,95,95,0.151)" stroke="none" stroke-width="0" />
<rect x="189.75" y="515.70" width="29.54" height="1.20" fill="rgba(228,95,95,0.209)" stroke="none" stroke-width="0" />
<rect x="215.98" y="515.70" width="29.52" height="1.20" fill="rgba(228,95,95,0.170)" stroke="none" stroke-width="0" />
<rect x="191.97" y="515.70" width="18.71" height="1.20" fill="rgba(228,95,95,0.067)" stroke="none" stroke-width="0" />
<rect x="191.02" y="515.70" width="25.58" height="1.20" fill="rgba(228,95,95,0.063)" stroke="none" stroke-width="0" />
<rect x="222.21" y="517.30" width="23.29" height="0.80" fill="rgba(228,95,95,0.055)" stroke="none" stroke-width="0" />
<rect x="197.80" y="517.30" width="47.70" height="0.80" fill="rgba(228,95,95,0.071)" stroke="none" stroke-width="0" />
<rect x="179.85" y="518.50" width="8.18" height="0.60" fill="rgba(228,95,95,0.093)" stroke="none" stroke-width="0" />
<rect x="189.56" y="518.50" width="25.93" height="0.60" fill="rgba(228,95,95,0.206)" stroke="none" stroke-width="0" />
<rect x="221.84" y="518.50" width="17.32" height="0.60" fill="rgba(228,95,95,0.078)" stroke="none" stroke-width="0" />
<rect x="208.02" y="518.50" width="37.48" height="0.60" fill="rgba(228,95,95,0.051)" stroke="none" stroke-width="0" />
<rect x="186.89" y="519.50" width="32.12" height="0.60" fill="rgba(228,95,95,0.103)" stroke="none" stroke-width="0" />
<rect x="211.24" y="519.50" width="8.25" height="0.60" fill="rgba(228,95,95,0.170)" stroke="none" stroke-width="0" />
<rect x="213.49" y="519.50" width="21.99" height="0.60" fill="rgba(228,95,95,0.131)" stroke="none" stroke-width="0" />
<rect x="188.20" y="520.30" width="18.20" height="1.00" fill="rgba(228,95,95,0.054)" stroke="none" stroke-width="0" />
<rect x="210.58" y="520.30" width="16.14" height="1.00" fill="rgba(228,95,95,0.122)" stroke="none" stroke-width="0" />
<rect x="194.36" y="520.30" width="35.13" height="1.00" fill="rgba(228,95,95,0.050)" stroke="none" stroke-width="0" />
<rect x="217.76" y="521.70" width="27.74" height="1.00" fill="rgba(228,95,95,0.058)" stroke="none" stroke-width="0" />
<rect x="183.07" y="521.70" width="23.81" height="1.00" fill="rgba(228,95,95,0.051)" stroke="none" stroke-width="0" />
<rect x="212.77" y="523.10" width="24.39" height="0.60" fill="rgba(228,95,95,0.055)" stroke="none" stroke-width="0" />
<rect x="193.38" y="523.10" width="46.13" height="0.60" fill="rgba(228,95,95,0.066)" stroke="none" stroke-width="0" />
<rect x="206.33" y="523.10" width="22.29" height="0.60" fill="rgba(228,95,95,0.070)" stroke="none" stroke-width="0" />
<rect x="221.21" y="523.10" width="24.29" height="0.60" fill="rgba(228,95,95,0.085)" stroke="none" stroke-width="0" />
<rect x="188.18" y="524.40" width="8.24" height="0.80" fill="rgba(228,95,95,0.156)" stroke="none" stroke-width="0" />
<rect x="199.19" y="524.40" width="40.81" height="0.80" fill="rgba(228,95,95,0.213)" stroke="none" stroke-width="0" />
<rect x="222.14" y="524.40" width="23.36" height="0.80" fill="rgba(228,95,95,0.083)" stroke="none" stroke-width="0" />
<rect x="185.12" y="525.60" width="40.26" height="0.80" fill="rgba(228,95,95,0.051)" stroke="none" stroke-width="0" />
<rect x="206.64" y="525.60" width="38.86" height="0.80" fill="rgba(228,95,95,0.081)" stroke="none" stroke-width="0" />
<g filter="url(#bl2)">
<polygon points="189.00,402.00 200.00,402.00 198.00,526.50 191.00,526.50" fill="rgba(235,120,120,0.16)" />
<polygon points="220.00,402.00 237.00,402.00 233.00,526.50 224.00,526.50" fill="rgba(235,110,110,0.2)" />
</g>
<g filter="url(#bl)">
<rect x="192.73" y="402.00" width="3.34" height="1.40" fill="rgba(220,40,40,0.814)" stroke="none" stroke-width="0" />
<rect x="224.96" y="402.00" width="6.87" height="1.40" fill="rgba(220,25,25,0.815)" stroke="none" stroke-width="0" />
<rect x="191.94" y="403.30" width="4.92" height="2.10" fill="rgba(220,40,40,0.865)" stroke="none" stroke-width="0" />
<rect x="224.81" y="403.30" width="7.17" height="2.10" fill="rgba(220,25,25,1.000)" stroke="none" stroke-width="0" />
<rect x="192.01" y="405.30" width="4.79" height="1.40" fill="rgba(220,40,40,0.996)" stroke="none" stroke-width="0" />
<rect x="224.69" y="405.30" width="7.41" height="1.40" fill="rgba(220,25,25,0.738)" stroke="none" stroke-width="0" />
<rect x="192.24" y="406.60" width="4.32" height="2.10" fill="rgba(220,40,40,0.677)" stroke="none" stroke-width="0" />
<rect x="223.97" y="406.60" width="8.87" height="2.10" fill="rgba(220,25,25,0.983)" stroke="none" stroke-width="0" />
<rect x="192.74" y="408.60" width="3.32" height="1.40" fill="rgba(220,40,40,0.885)" stroke="none" stroke-width="0" />
<rect x="224.54" y="408.60" width="7.72" height="1.40" fill="rgba(220,25,25,0.929)" stroke="none" stroke-width="0" />
<rect x="192.79" y="409.90" width="3.22" height="1.40" fill="rgba(220,40,40,0.644)" stroke="none" stroke-width="0" />
<rect x="224.71" y="409.90" width="7.38" height="1.40" fill="rgba(220,25,25,1.000)" stroke="none" stroke-width="0" />
<rect x="192.05" y="411.20" width="4.69" height="1.40" fill="rgba(220,40,40,0.720)" stroke="none" stroke-width="0" />
<rect x="225.14" y="411.20" width="6.51" height="1.40" fill="rgba(220,25,25,0.949)" stroke="none" stroke-width="0" />
<rect x="192.57" y="412.50" width="3.66" height="1.10" fill="rgba(220,40,40,0.880)" stroke="none" stroke-width="0" />
<rect x="224.63" y="412.50" width="7.55" height="1.10" fill="rgba(220,25,25,0.795)" stroke="none" stroke-width="0" />
<rect x="192.72" y="413.50" width="3.37" height="1.70" fill="rgba(220,40,40,0.867)" stroke="none" stroke-width="0" />
<rect x="224.73" y="413.50" width="7.34" height="1.70" fill="rgba(220,25,25,0.782)" stroke="none" stroke-width="0" />
<rect x="192.95" y="415.10" width="2.90" height="1.70" fill="rgba(220,40,40,0.779)" stroke="none" stroke-width="0" />
<rect x="224.46" y="415.10" width="7.89" height="1.70" fill="rgba(220,25,25,0.818)" stroke="none" stroke-width="0" />
<rect x="192.36" y="416.70" width="4.07" height="2.10" fill="rgba(220,40,40,0.777)" stroke="none" stroke-width="0" />
<rect x="224.22" y="416.70" width="8.36" height="2.10" fill="rgba(220,25,25,0.811)" stroke="none" stroke-width="0" />
<rect x="192.93" y="418.70" width="2.95" height="1.40" fill="rgba(220,40,40,0.898)" stroke="none" stroke-width="0" />
<rect x="224.85" y="418.70" width="7.10" height="1.40" fill="rgba(220,25,25,0.782)" stroke="none" stroke-width="0" />
<rect x="192.49" y="420.00" width="3.82" height="1.70" fill="rgba(220,40,40,0.620)" stroke="none" stroke-width="0" />
<rect x="225.29" y="420.00" width="6.23" height="1.70" fill="rgba(220,25,25,0.789)" stroke="none" stroke-width="0" />
<rect x="192.23" y="421.60" width="4.33" height="1.40" fill="rgba(220,40,40,0.609)" stroke="none" stroke-width="0" />
<rect x="224.70" y="421.60" width="7.40" height="1.40" fill="rgba(220,25,25,0.877)" stroke="none" stroke-width="0" />
<rect x="192.36" y="422.90" width="4.07" height="1.10" fill="rgba(220,40,40,0.851)" stroke="none" stroke-width="0" />
<rect x="224.37" y="422.90" width="8.07" height="1.10" fill="rgba(220,25,25,0.922)" stroke="none" stroke-width="0" />
<rect x="192.29" y="423.90" width="4.22" height="1.10" fill="rgba(220,40,40,0.884)" stroke="none" stroke-width="0" />
<rect x="224.34" y="423.90" width="8.12" height="1.10" fill="rgba(220,25,25,0.948)" stroke="none" stroke-width="0" />
<rect x="192.74" y="424.90" width="3.32" height="1.40" fill="rgba(220,40,40,0.614)" stroke="none" stroke-width="0" />
<rect x="224.36" y="424.90" width="8.07" height="1.40" fill="rgba(220,25,25,0.905)" stroke="none" stroke-width="0" />
<rect x="192.81" y="426.20" width="3.17" height="1.40" fill="rgba(220,40,40,0.808)" stroke="none" stroke-width="0" />
<rect x="224.36" y="426.20" width="8.09" height="1.40" fill="rgba(220,25,25,0.842)" stroke="none" stroke-width="0" />
<rect x="192.77" y="427.50" width="3.26" height="1.70" fill="rgba(220,40,40,0.613)" stroke="none" stroke-width="0" />
<rect x="224.40" y="427.50" width="8.00" height="1.70" fill="rgba(220,25,25,0.890)" stroke="none" stroke-width="0" />
<rect x="192.57" y="429.10" width="3.66" height="1.40" fill="rgba(220,40,40,0.639)" stroke="none" stroke-width="0" />
<rect x="224.72" y="429.10" width="7.37" height="1.40" fill="rgba(220,25,25,0.901)" stroke="none" stroke-width="0" />
<rect x="192.88" y="430.40" width="3.04" height="1.40" fill="rgba(220,40,40,0.656)" stroke="none" stroke-width="0" />
<rect x="225.30" y="430.40" width="6.21" height="1.40" fill="rgba(220,25,25,0.601)" stroke="none" stroke-width="0" />
<rect x="192.90" y="431.70" width="3.00" height="1.70" fill="rgba(220,40,40,0.776)" stroke="none" stroke-width="0" />
<rect x="224.51" y="431.70" width="7.79" height="1.70" fill="rgba(220,25,25,0.862)" stroke="none" stroke-width="0" />
<rect x="192.22" y="433.30" width="4.36" height="1.10" fill="rgba(220,40,40,0.797)" stroke="none" stroke-width="0" />
<rect x="224.30" y="433.30" width="8.21" height="1.10" fill="rgba(220,25,25,0.591)" stroke="none" stroke-width="0" />
<rect x="192.20" y="434.30" width="4.40" height="2.10" fill="rgba(220,40,40,0.719)" stroke="none" stroke-width="0" />
<rect x="225.43" y="434.30" width="5.93" height="2.10" fill="rgba(220,25,25,0.748)" stroke="none" stroke-width="0" />
<rect x="192.72" y="436.30" width="3.37" height="2.10" fill="rgba(220,40,40,0.770)" stroke="none" stroke-width="0" />
<rect x="225.12" y="436.30" width="6.56" height="2.10" fill="rgba(220,25,25,0.674)" stroke="none" stroke-width="0" />
<rect x="192.66" y="438.30" width="3.48" height="1.40" fill="rgba(220,40,40,0.634)" stroke="none" stroke-width="0" />
<rect x="225.40" y="438.30" width="5.99" height="1.40" fill="rgba(220,25,25,0.780)" stroke="none" stroke-width="0" />
<rect x="192.80" y="439.60" width="3.20" height="1.10" fill="rgba(220,40,40,0.607)" stroke="none" stroke-width="0" />
<rect x="224.40" y="439.60" width="8.00" height="1.10" fill="rgba(220,25,25,0.700)" stroke="none" stroke-width="0" />
<rect x="192.90" y="440.60" width="3.01" height="1.70" fill="rgba(220,40,40,0.745)" stroke="none" stroke-width="0" />
<rect x="225.29" y="440.60" width="6.22" height="1.70" fill="rgba(220,25,25,0.761)" stroke="none" stroke-width="0" />
<rect x="193.08" y="442.20" width="2.64" height="2.10" fill="rgba(220,40,40,0.635)" stroke="none" stroke-width="0" />
<rect x="225.06" y="442.20" width="6.68" height="2.10" fill="rgba(220,25,25,0.642)" stroke="none" stroke-width="0" />
<rect x="192.78" y="444.20" width="3.24" height="1.10" fill="rgba(220,40,40,0.500)" stroke="none" stroke-width="0" />
<rect x="225.59" y="444.20" width="5.62" height="1.10" fill="rgba(220,25,25,0.530)" stroke="none" stroke-width="0" />
<rect x="192.84" y="445.20" width="3.12" height="1.70" fill="rgba(220,40,40,0.658)" stroke="none" stroke-width="0" />
<rect x="225.57" y="445.20" width="5.66" height="1.70" fill="rgba(220,25,25,0.641)" stroke="none" stroke-width="0" />
<rect x="193.02" y="446.80" width="2.77" height="1.70" fill="rgba(220,40,40,0.678)" stroke="none" stroke-width="0" />
<rect x="224.55" y="446.80" width="7.70" height="1.70" fill="rgba(220,25,25,0.649)" stroke="none" stroke-width="0" />
<rect x="193.10" y="448.40" width="2.61" height="1.40" fill="rgba(220,40,40,0.695)" stroke="none" stroke-width="0" />
<rect x="225.61" y="448.40" width="5.59" height="1.40" fill="rgba(220,25,25,0.635)" stroke="none" stroke-width="0" />
<rect x="193.16" y="449.70" width="2.49" height="1.70" fill="rgba(220,40,40,0.595)" stroke="none" stroke-width="0" />
<rect x="224.98" y="449.70" width="6.84" height="1.70" fill="rgba(220,25,25,0.578)" stroke="none" stroke-width="0" />
<rect x="192.58" y="451.30" width="3.65" height="1.70" fill="rgba(220,40,40,0.646)" stroke="none" stroke-width="0" />
<rect x="225.17" y="451.30" width="6.46" height="1.70" fill="rgba(220,25,25,0.654)" stroke="none" stroke-width="0" />
<rect x="193.14" y="452.90" width="2.52" height="2.10" fill="rgba(220,40,40,0.535)" stroke="none" stroke-width="0" />
<rect x="225.18" y="452.90" width="6.45" height="2.10" fill="rgba(220,25,25,0.731)" stroke="none" stroke-width="0" />
<rect x="192.29" y="454.90" width="4.23" height="2.10" fill="rgba(220,40,40,0.509)" stroke="none" stroke-width="0" />
<rect x="225.76" y="454.90" width="5.27" height="2.10" fill="rgba(220,25,25,0.526)" stroke="none" stroke-width="0" />
<rect x="192.60" y="456.90" width="3.60" height="1.40" fill="rgba(220,40,40,0.488)" stroke="none" stroke-width="0" />
<rect x="225.27" y="456.90" width="6.25" height="1.40" fill="rgba(220,25,25,0.528)" stroke="none" stroke-width="0" />
<rect x="192.91" y="458.20" width="2.99" height="2.10" fill="rgba(220,40,40,0.674)" stroke="none" stroke-width="0" />
<rect x="225.56" y="458.20" width="5.68" height="2.10" fill="rgba(220,25,25,0.516)" stroke="none" stroke-width="0" />
<rect x="192.75" y="460.20" width="3.30" height="1.10" fill="rgba(220,40,40,0.714)" stroke="none" stroke-width="0" />
<rect x="225.29" y="460.20" width="6.23" height="1.10" fill="rgba(220,25,25,0.644)" stroke="none" stroke-width="0" />
<rect x="192.77" y="461.20" width="3.26" height="2.10" fill="rgba(220,40,40,0.666)" stroke="none" stroke-width="0" />
<rect x="225.04" y="461.20" width="6.73" height="2.10" fill="rgba(220,25,25,0.643)" stroke="none" stroke-width="0" />
<rect x="192.98" y="463.20" width="2.83" height="2.10" fill="rgba(220,40,40,0.473)" stroke="none" stroke-width="0" />
<rect x="225.20" y="463.20" width="6.41" height="2.10" fill="rgba(220,25,25,0.693)" stroke="none" stroke-width="0" />
<rect x="192.56" y="465.20" width="3.68" height="1.10" fill="rgba(220,40,40,0.508)" stroke="none" stroke-width="0" />
<rect x="224.97" y="465.20" width="6.87" height="1.10" fill="rgba(220,25,25,0.623)" stroke="none" stroke-width="0" />
<rect x="192.82" y="466.20" width="3.15" height="1.10" fill="rgba(220,40,40,0.485)" stroke="none" stroke-width="0" />
<rect x="225.06" y="466.20" width="6.69" height="1.10" fill="rgba(220,25,25,0.571)" stroke="none" stroke-width="0" />
<rect x="192.37" y="467.20" width="4.06" height="1.70" fill="rgba(220,40,40,0.489)" stroke="none" stroke-width="0" />
<rect x="225.99" y="467.20" width="4.83" height="1.70" fill="rgba(220,25,25,0.654)" stroke="none" stroke-width="0" />
<rect x="192.43" y="468.80" width="3.93" height="1.10" fill="rgba(220,40,40,0.449)" stroke="none" stroke-width="0" />
<rect x="225.86" y="468.80" width="5.08" height="1.10" fill="rgba(220,25,25,0.639)" stroke="none" stroke-width="0" />
<rect x="192.40" y="469.80" width="4.00" height="1.40" fill="rgba(220,40,40,0.594)" stroke="none" stroke-width="0" />
<rect x="225.71" y="469.80" width="5.38" height="1.40" fill="rgba(220,25,25,0.502)" stroke="none" stroke-width="0" />
<rect x="192.37" y="471.10" width="4.07" height="1.40" fill="rgba(220,40,40,0.494)" stroke="none" stroke-width="0" />
<rect x="224.88" y="471.10" width="7.03" height="1.40" fill="rgba(220,25,25,0.614)" stroke="none" stroke-width="0" />
<rect x="193.29" y="472.40" width="2.22" height="2.10" fill="rgba(220,40,40,0.512)" stroke="none" stroke-width="0" />
<rect x="226.15" y="472.40" width="4.51" height="2.10" fill="rgba(220,25,25,0.535)" stroke="none" stroke-width="0" />
<rect x="193.10" y="474.40" width="2.61" height="1.40" fill="rgba(220,40,40,0.527)" stroke="none" stroke-width="0" />
<rect x="225.40" y="474.40" width="5.99" height="1.40" fill="rgba(220,25,25,0.477)" stroke="none" stroke-width="0" />
<rect x="193.28" y="475.70" width="2.24" height="1.10" fill="rgba(220,40,40,0.520)" stroke="none" stroke-width="0" />
<rect x="226.09" y="475.70" width="4.62" height="1.10" fill="rgba(220,25,25,0.442)" stroke="none" stroke-width="0" />
<rect x="193.29" y="476.70" width="2.22" height="1.40" fill="rgba(220,40,40,0.461)" stroke="none" stroke-width="0" />
<rect x="226.20" y="476.70" width="4.41" height="1.40" fill="rgba(220,25,25,0.431)" stroke="none" stroke-width="0" />
<rect x="193.26" y="478.00" width="2.28" height="1.10" fill="rgba(220,40,40,0.540)" stroke="none" stroke-width="0" />
<rect x="225.50" y="478.00" width="5.79" height="1.10" fill="rgba(220,25,25,0.552)" stroke="none" stroke-width="0" />
<rect x="192.80" y="479.00" width="3.20" height="1.70" fill="rgba(220,40,40,0.417)" stroke="none" stroke-width="0" />
<rect x="225.42" y="479.00" width="5.95" height="1.70" fill="rgba(220,25,25,0.592)" stroke="none" stroke-width="0" />
<rect x="193.23" y="480.60" width="2.34" height="2.10" fill="rgba(220,40,40,0.389)" stroke="none" stroke-width="0" />
<rect x="226.27" y="480.60" width="4.26" height="2.10" fill="rgba(220,25,25,0.429)" stroke="none" stroke-width="0" />
<rect x="193.07" y="482.60" width="2.67" height="1.10" fill="rgba(220,40,40,0.547)" stroke="none" stroke-width="0" />
<rect x="226.21" y="482.60" width="4.37" height="1.10" fill="rgba(220,25,25,0.507)" stroke="none" stroke-width="0" />
<rect x="193.06" y="483.60" width="2.67" height="1.10" fill="rgba(220,40,40,0.534)" stroke="none" stroke-width="0" />
<rect x="225.92" y="483.60" width="4.95" height="1.10" fill="rgba(220,25,25,0.505)" stroke="none" stroke-width="0" />
<rect x="193.08" y="484.60" width="2.64" height="1.70" fill="rgba(220,40,40,0.355)" stroke="none" stroke-width="0" />
<rect x="225.45" y="484.60" width="5.91" height="1.70" fill="rgba(220,25,25,0.423)" stroke="none" stroke-width="0" />
<rect x="192.77" y="486.20" width="3.26" height="1.70" fill="rgba(220,40,40,0.547)" stroke="none" stroke-width="0" />
<rect x="225.78" y="486.20" width="5.23" height="1.70" fill="rgba(220,25,25,0.516)" stroke="none" stroke-width="0" />
<rect x="192.97" y="487.80" width="2.86" height="1.70" fill="rgba(220,40,40,0.474)" stroke="none" stroke-width="0" />
<rect x="225.86" y="487.80" width="5.08" height="1.70" fill="rgba(220,25,25,0.366)" stroke="none" stroke-width="0" />
<rect x="192.85" y="489.40" width="3.09" height="1.10" fill="rgba(220,40,40,0.409)" stroke="none" stroke-width="0" />
<rect x="226.17" y="489.40" width="4.46" height="1.10" fill="rgba(220,25,25,0.488)" stroke="none" stroke-width="0" />
<rect x="192.96" y="490.40" width="2.88" height="1.10" fill="rgba(220,40,40,0.453)" stroke="none" stroke-width="0" />
<rect x="225.79" y="490.40" width="5.22" height="1.10" fill="rgba(220,25,25,0.405)" stroke="none" stroke-width="0" />
<rect x="193.40" y="491.40" width="2.00" height="1.70" fill="rgba(220,40,40,0.488)" stroke="none" stroke-width="0" />
<rect x="225.85" y="491.40" width="5.10" height="1.70" fill="rgba(220,25,25,0.528)" stroke="none" stroke-width="0" />
<rect x="192.44" y="493.00" width="3.91" height="2.10" fill="rgba(220,40,40,0.466)" stroke="none" stroke-width="0" />
<rect x="225.74" y="493.00" width="5.32" height="2.10" fill="rgba(220,25,25,0.492)" stroke="none" stroke-width="0" />
<rect x="192.61" y="495.00" width="3.58" height="1.70" fill="rgba(220,40,40,0.432)" stroke="none" stroke-width="0" />
<rect x="225.32" y="495.00" width="6.15" height="1.70" fill="rgba(220,25,25,0.363)" stroke="none" stroke-width="0" />
<rect x="192.80" y="496.60" width="3.21" height="1.40" fill="rgba(220,40,40,0.409)" stroke="none" stroke-width="0" />
<rect x="226.46" y="496.60" width="3.87" height="1.40" fill="rgba(220,25,25,0.348)" stroke="none" stroke-width="0" />
<rect x="193.04" y="497.90" width="2.72" height="1.10" fill="rgba(220,40,40,0.428)" stroke="none" stroke-width="0" />
<rect x="226.08" y="497.90" width="4.64" height="1.10" fill="rgba(220,25,25,0.385)" stroke="none" stroke-width="0" />
<rect x="193.07" y="498.90" width="2.65" height="1.10" fill="rgba(220,40,40,0.384)" stroke="none" stroke-width="0" />
<rect x="226.21" y="498.90" width="4.37" height="1.10" fill="rgba(220,25,25,0.431)" stroke="none" stroke-width="0" />
<rect x="193.07" y="499.90" width="2.66" height="2.10" fill="rgba(220,40,40,0.471)" stroke="none" stroke-width="0" />
<rect x="225.47" y="499.90" width="5.85" height="2.10" fill="rgba(220,25,25,0.402)" stroke="none" stroke-width="0" />
<rect x="192.87" y="501.90" width="3.06" height="1.40" fill="rgba(220,40,40,0.469)" stroke="none" stroke-width="0" />
<rect x="225.76" y="501.90" width="5.28" height="1.40" fill="rgba(220,25,25,0.331)" stroke="none" stroke-width="0" />
<rect x="193.31" y="503.20" width="2.17" height="1.10" fill="rgba(220,40,40,0.352)" stroke="none" stroke-width="0" />
<rect x="225.58" y="503.20" width="5.64" height="1.10" fill="rgba(220,25,25,0.358)" stroke="none" stroke-width="0" />
<rect x="192.70" y="504.20" width="3.40" height="1.70" fill="rgba(220,40,40,0.315)" stroke="none" stroke-width="0" />
<rect x="225.94" y="504.20" width="4.92" height="1.70" fill="rgba(220,25,25,0.372)" stroke="none" stroke-width="0" />
<rect x="192.79" y="505.80" width="3.23" height="1.40" fill="rgba(220,40,40,0.339)" stroke="none" stroke-width="0" />
<rect x="226.06" y="505.80" width="4.69" height="1.40" fill="rgba(220,25,25,0.398)" stroke="none" stroke-width="0" />
<rect x="192.65" y="507.10" width="3.51" height="1.70" fill="rgba(220,40,40,0.328)" stroke="none" stroke-width="0" />
<rect x="226.54" y="507.10" width="3.73" height="1.70" fill="rgba(220,25,25,0.401)" stroke="none" stroke-width="0" />
<rect x="192.90" y="508.70" width="3.01" height="1.40" fill="rgba(220,40,40,0.438)" stroke="none" stroke-width="0" />
<rect x="226.31" y="508.70" width="4.18" height="1.40" fill="rgba(220,25,25,0.396)" stroke="none" stroke-width="0" />
<rect x="192.53" y="510.00" width="3.74" height="1.40" fill="rgba(220,40,40,0.320)" stroke="none" stroke-width="0" />
<rect x="225.84" y="510.00" width="5.12" height="1.40" fill="rgba(220,25,25,0.310)" stroke="none" stroke-width="0" />
<rect x="193.32" y="511.30" width="2.16" height="1.10" fill="rgba(220,40,40,0.288)" stroke="none" stroke-width="0" />
<rect x="226.61" y="511.30" width="3.58" height="1.10" fill="rgba(220,25,25,0.374)" stroke="none" stroke-width="0" />
<rect x="193.09" y="512.30" width="2.63" height="1.40" fill="rgba(220,40,40,0.388)" stroke="none" stroke-width="0" />
<rect x="226.57" y="512.30" width="3.67" height="1.40" fill="rgba(220,25,25,0.380)" stroke="none" stroke-width="0" />
<rect x="193.06" y="513.60" width="2.67" height="1.10" fill="rgba(220,40,40,0.298)" stroke="none" stroke-width="0" />
<rect x="226.83" y="513.60" width="3.15" height="1.10" fill="rgba(220,25,25,0.396)" stroke="none" stroke-width="0" />
<rect x="192.90" y="514.60" width="3.00" height="2.10" fill="rgba(220,40,40,0.360)" stroke="none" stroke-width="0" />
<rect x="226.26" y="514.60" width="4.29" height="2.10" fill="rgba(220,25,25,0.336)" stroke="none" stroke-width="0" />
<rect x="193.54" y="516.60" width="1.72" height="1.40" fill="rgba(220,40,40,0.283)" stroke="none" stroke-width="0" />
<rect x="226.58" y="516.60" width="3.65" height="1.40" fill="rgba(220,25,25,0.361)" stroke="none" stroke-width="0" />
<rect x="192.90" y="517.90" width="2.99" height="2.10" fill="rgba(220,40,40,0.346)" stroke="none" stroke-width="0" />
<rect x="225.81" y="517.90" width="5.18" height="2.10" fill="rgba(220,25,25,0.334)" stroke="none" stroke-width="0" />
<rect x="193.11" y="519.90" width="2.58" height="1.40" fill="rgba(220,40,40,0.333)" stroke="none" stroke-width="0" />
<rect x="226.54" y="519.90" width="3.73" height="1.40" fill="rgba(220,25,25,0.332)" stroke="none" stroke-width="0" />
<rect x="193.17" y="521.20" width="2.46" height="1.10" fill="rgba(220,40,40,0.358)" stroke="none" stroke-width="0" />
<rect x="226.04" y="521.20" width="4.72" height="1.10" fill="rgba(220,25,25,0.274)" stroke="none" stroke-width="0" />
<rect x="193.12" y="522.20" width="2.56" height="1.40" fill="rgba(220,40,40,0.260)" stroke="none" stroke-width="0" />
<rect x="226.17" y="522.20" width="4.45" height="1.40" fill="rgba(220,25,25,0.294)" stroke="none" stroke-width="0" />
<rect x="192.71" y="523.50" width="3.38" height="2.10" fill="rgba(220,40,40,0.293)" stroke="none" stroke-width="0" />
<rect x="225.84" y="523.50" width="5.12" height="2.10" fill="rgba(220,25,25,0.318)" stroke="none" stroke-width="0" />
<rect x="193.10" y="525.50" width="2.59" height="1.70" fill="rgba(220,40,40,0.320)" stroke="none" stroke-width="0" />
<rect x="225.77" y="525.50" width="5.27" height="1.70" fill="rgba(220,25,25,0.276)" stroke="none" stroke-width="0" />
</g>
</g>
<rect x="265.10" y="427.40" width="4.60" height="69.50" fill="url(#gD)" stroke="none" stroke-width="0" />
<text x="267" y="422.5" font-size="9" fill="#222" text-anchor="middle" font-weight="normal" stroke="#222" stroke-width="0.22" >5</text>
<text x="267" y="511" font-size="9" fill="#222" text-anchor="middle" font-weight="normal" stroke="#222" stroke-width="0.22" >0</text>
<text x="172.2" y="466.8" font-size="7.9" fill="#222" text-anchor="middle" font-weight="normal" stroke="#222" stroke-width="0.22" transform="rotate(-90 172.2 466.8)">% tags/kb (10<tspan font-size="5.2" dy="-3">-4</tspan><tspan dy="3">)</tspan></text>
<text x="173.8" y="557.8" font-size="7.7" fill="#222" text-anchor="start" font-weight="normal" stroke="#222" stroke-width="0.22" transform="rotate(-45 173.8 557.8)">siControl</text>
<text x="198.8" y="567.3" font-size="7.7" fill="#222" text-anchor="start" font-weight="normal" stroke="#222" stroke-width="0.22" transform="rotate(-45 198.8 567.3)">siAML1-ETO</text>
<text x="87.6" y="597" font-size="9.4" fill="#111" text-anchor="start" font-weight="normal" stroke="#111" stroke-width="0.22" >UAE</text>
<line x1="52.80" y1="598.00" x2="52.80" y2="770.00" stroke="#ddd" stroke-width="0.8" />
<text x="41.8" y="599" font-size="4.6" fill="#555" text-anchor="start" font-weight="normal" >chr1</text>
<text x="38.5" y="630" font-size="9" fill="#3f74c4" text-anchor="middle" font-weight="normal" stroke="#3f74c4" stroke-width="0.1" transform="rotate(-90 38.5 630)">AML1-ETO</text>
<text x="38.5" y="676" font-size="9" fill="#c452a2" text-anchor="middle" font-weight="normal" stroke="#c452a2" stroke-width="0.1" transform="rotate(-90 38.5 676)">H3ac</text>
<text x="38.5" y="738.5" font-size="9" fill="#f2c872" text-anchor="middle" font-weight="normal" stroke="#f2c872" stroke-width="0.1" transform="rotate(-90 38.5 738.5)">H4ac</text>
<text x="58.2" y="613.5" font-size="8.3" fill="#1a1a1a" text-anchor="start" font-weight="normal" stroke="#1a1a1a" stroke-width="0.2" >- zinc</text>
<text x="58.2" y="639.6" font-size="8.3" fill="#1a1a1a" text-anchor="start" font-weight="normal" stroke="#1a1a1a" stroke-width="0.2" >+ zinc</text>
<text x="58.2" y="665" font-size="8.3" fill="#1a1a1a" text-anchor="start" font-weight="normal" stroke="#1a1a1a" stroke-width="0.2" >- zinc</text>
<text x="58.2" y="694.6" font-size="8.3" fill="#1a1a1a" text-anchor="start" font-weight="normal" stroke="#1a1a1a" stroke-width="0.2" >+ zinc</text>
<text x="58.2" y="720.5" font-size="8.3" fill="#1a1a1a" text-anchor="start" font-weight="normal" stroke="#1a1a1a" stroke-width="0.2" >- zinc</text>
<text x="58.2" y="750.1" font-size="8.3" fill="#1a1a1a" text-anchor="start" font-weight="normal" stroke="#1a1a1a" stroke-width="0.2" >+ zinc</text>
<text x="46" y="606.1" font-size="4.8" fill="#98b0dc" text-anchor="start" font-weight="normal" >30</text>
<text x="48.5" y="625.7" font-size="4.8" fill="#999" text-anchor="start" font-weight="normal" >1</text>
<text x="46" y="632.1" font-size="4.8" fill="#98b0dc" text-anchor="start" font-weight="normal" >30</text>
<text x="48.5" y="653.5" font-size="4.8" fill="#999" text-anchor="start" font-weight="normal" >1</text>
<text x="46" y="658.7" font-size="4.8" fill="#dc9cc8" text-anchor="start" font-weight="normal" >45</text>
<text x="48.5" y="679.5" font-size="4.8" fill="#999" text-anchor="start" font-weight="normal" >1</text>
<text x="46" y="686.5" font-size="4.8" fill="#dc9cc8" text-anchor="start" font-weight="normal" >45</text>
<text x="48.5" y="706.6" font-size="4.8" fill="#999" text-anchor="start" font-weight="normal" >1</text>
<text x="46" y="713.5" font-size="4.8" fill="#f2dcaa" text-anchor="start" font-weight="normal" >60</text>
<text x="48.5" y="734.7" font-size="4.8" fill="#aaa" text-anchor="start" font-weight="normal" >1</text>
<text x="46" y="740.6" font-size="4.8" fill="#f2dcaa" text-anchor="start" font-weight="normal" >60</text>
<text x="48.5" y="759.9" font-size="4.8" fill="#999" text-anchor="start" font-weight="normal" >1</text>
<rect x="62.50" y="626.00" width="6.70" height="1.30" fill="#3866b8" stroke="none" stroke-width="0" />
<polygon points="110.00,627.20 112.00,624.50 114.40,622.10 116.50,624.50 118.80,627.20" fill="#3866b8" />
<line x1="54.00" y1="653.80" x2="58.00" y2="653.80" stroke="#a8bcd8" stroke-width="0.8" />
<line x1="62.00" y1="653.80" x2="66.00" y2="653.80" stroke="#a8bcd8" stroke-width="0.8" />
<line x1="70.00" y1="653.80" x2="74.00" y2="653.80" stroke="#a8bcd8" stroke-width="0.8" />
<line x1="78.00" y1="653.80" x2="82.00" y2="653.80" stroke="#a8bcd8" stroke-width="0.8" />
<line x1="86.00" y1="653.80" x2="90.00" y2="653.80" stroke="#a8bcd8" stroke-width="0.8" />
<line x1="94.00" y1="653.80" x2="98.00" y2="653.80" stroke="#a8bcd8" stroke-width="0.8" />
<line x1="102.00" y1="653.80" x2="106.00" y2="653.80" stroke="#a8bcd8" stroke-width="0.8" />
<line x1="110.00" y1="653.80" x2="114.00" y2="653.80" stroke="#a8bcd8" stroke-width="0.8" />
<line x1="118.00" y1="653.80" x2="122.00" y2="653.80" stroke="#a8bcd8" stroke-width="0.8" />
<line x1="126.00" y1="653.80" x2="130.00" y2="653.80" stroke="#a8bcd8" stroke-width="0.8" />
<line x1="134.00" y1="653.80" x2="138.00" y2="653.80" stroke="#a8bcd8" stroke-width="0.8" />
<line x1="142.00" y1="653.80" x2="146.00" y2="653.80" stroke="#a8bcd8" stroke-width="0.8" />
<polygon points="88.50,653.80 92.00,652.00 95.00,648.00 97.00,643.00 99.00,637.00 101.00,633.70 102.50,637.00 104.00,643.00 106.00,650.00 107.70,651.50 109.50,647.00 111.00,641.00 112.50,636.00 114.40,633.80 116.00,638.00 117.30,645.00 118.50,651.00 120.00,653.00 126.00,653.40 132.70,653.80" fill="#3866b8" />
<polygon points="53.00,681.00 53.00,678.50 55.00,678.00 57.00,680.00 60.00,680.20 65.00,679.50 70.00,679.80 75.00,679.20 80.00,679.50 85.00,680.20 87.50,680.00 89.00,676.00 91.00,673.00 93.00,672.50 94.50,671.50 96.20,670.80 98.00,673.50 100.00,672.00 102.00,665.00 104.00,661.50 105.80,661.20 107.50,662.50 109.50,663.00 110.50,665.00 112.00,667.00 114.00,664.00 116.00,662.50 118.30,662.10 119.50,665.00 121.00,670.00 122.50,674.00 125.00,675.50 128.00,676.00 131.00,677.00 133.00,678.50 134.00,681.00" fill="#c2479c" />
<polygon points="136.00,681.00 138.00,679.50 140.00,679.00 142.00,679.50 144.00,681.00" fill="#c2479c" />
<polygon points="53.80,708.20 54.50,706.00 57.00,705.50 60.00,706.00 63.50,708.20" fill="#b21a86" />
<polygon points="76.70,708.20 78.50,706.50 81.00,706.20 83.90,708.20" fill="#b21a86" />
<polygon points="87.00,708.20 88.50,705.50 91.00,704.50 94.00,703.50 97.00,702.50 100.00,702.00 102.00,700.50 104.30,698.80 106.00,700.00 108.00,701.50 110.00,701.50 112.00,700.50 114.00,699.50 116.00,698.00 117.50,697.30 119.00,699.00 121.00,701.00 123.00,701.50 126.00,701.80 128.00,703.00 131.00,703.50 134.00,704.50 136.80,708.20" fill="#b21a86" />
<polygon points="53.40,735.30 53.60,726.00 54.50,724.50 55.50,727.00 57.00,731.00 58.50,733.50 62.00,734.00 70.00,734.20 78.00,733.00 84.00,733.50 87.50,734.00 89.00,729.00 90.50,723.00 92.30,720.90 94.00,722.00 96.00,724.00 98.00,725.00 100.00,724.50 102.00,725.00 104.00,723.50 106.00,722.50 108.00,724.50 110.00,725.00 112.00,724.00 114.00,722.00 116.00,717.00 117.50,714.90 118.80,718.00 120.00,724.00 121.00,731.00 122.40,733.00 126.00,732.00 130.00,733.00 134.40,735.30" fill="#f6c462" />
<polygon points="53.40,762.30 53.60,757.00 55.00,755.70 57.00,756.50 59.00,759.00 61.00,760.50 63.50,762.30" fill="#ea9c22" />
<polygon points="70.00,762.30 72.00,760.80 76.00,760.50 80.00,761.00 83.00,762.30" fill="#ea9c22" />
<polygon points="90.00,762.30 92.00,759.50 95.00,758.50 98.00,758.00 100.00,758.50 103.00,757.50 105.00,755.00 106.70,754.00 108.50,755.00 110.00,757.50 113.00,758.50 116.00,758.00 118.00,757.50 120.00,758.50 123.00,759.00 126.00,759.50 129.00,760.00 132.00,760.50 135.00,761.50 138.00,762.30" fill="#ea9c22" />
<text x="33.4" y="773.2" font-size="4.8" fill="#333" text-anchor="start" font-weight="normal" >TNFRSF8</text>
<line x1="54.00" y1="771.30" x2="55.80" y2="771.30" stroke="#777" stroke-width="0.7" />
<line x1="57.00" y1="771.30" x2="58.80" y2="771.30" stroke="#777" stroke-width="0.7" />
<line x1="60.00" y1="771.30" x2="61.80" y2="771.30" stroke="#777" stroke-width="0.7" />
<line x1="63.00" y1="771.30" x2="64.80" y2="771.30" stroke="#777" stroke-width="0.7" />
<line x1="66.00" y1="771.30" x2="67.80" y2="771.30" stroke="#777" stroke-width="0.7" />
<line x1="69.00" y1="771.30" x2="70.80" y2="771.30" stroke="#777" stroke-width="0.7" />
<line x1="72.00" y1="771.30" x2="73.80" y2="771.30" stroke="#777" stroke-width="0.7" />
<line x1="75.00" y1="771.30" x2="76.80" y2="771.30" stroke="#777" stroke-width="0.7" />
<line x1="78.00" y1="771.30" x2="79.80" y2="771.30" stroke="#777" stroke-width="0.7" />
<line x1="81.00" y1="771.30" x2="82.80" y2="771.30" stroke="#777" stroke-width="0.7" />
<line x1="84.00" y1="771.30" x2="85.80" y2="771.30" stroke="#777" stroke-width="0.7" />
<line x1="87.00" y1="771.30" x2="88.80" y2="771.30" stroke="#777" stroke-width="0.7" />
<line x1="90.00" y1="771.30" x2="91.80" y2="771.30" stroke="#777" stroke-width="0.7" />
<line x1="93.00" y1="771.30" x2="94.80" y2="771.30" stroke="#777" stroke-width="0.7" />
<line x1="96.00" y1="771.30" x2="97.80" y2="771.30" stroke="#777" stroke-width="0.7" />
<line x1="99.00" y1="771.30" x2="100.80" y2="771.30" stroke="#777" stroke-width="0.7" />
<line x1="102.00" y1="771.30" x2="103.80" y2="771.30" stroke="#777" stroke-width="0.7" />
<line x1="105.00" y1="771.30" x2="106.80" y2="771.30" stroke="#777" stroke-width="0.7" />
<line x1="108.00" y1="771.30" x2="109.80" y2="771.30" stroke="#777" stroke-width="0.7" />
<line x1="111.00" y1="771.30" x2="112.80" y2="771.30" stroke="#777" stroke-width="0.7" />
<line x1="114.00" y1="771.30" x2="115.80" y2="771.30" stroke="#777" stroke-width="0.7" />
<line x1="117.00" y1="771.30" x2="118.80" y2="771.30" stroke="#777" stroke-width="0.7" />
<line x1="120.00" y1="771.30" x2="121.80" y2="771.30" stroke="#777" stroke-width="0.7" />
<line x1="123.00" y1="771.30" x2="124.80" y2="771.30" stroke="#777" stroke-width="0.7" />
<line x1="126.00" y1="771.30" x2="127.80" y2="771.30" stroke="#777" stroke-width="0.7" />
<line x1="129.00" y1="771.30" x2="130.80" y2="771.30" stroke="#777" stroke-width="0.7" />
<line x1="132.00" y1="771.30" x2="133.80" y2="771.30" stroke="#777" stroke-width="0.7" />
<line x1="135.00" y1="771.30" x2="136.80" y2="771.30" stroke="#777" stroke-width="0.7" />
<line x1="138.00" y1="771.30" x2="139.80" y2="771.30" stroke="#777" stroke-width="0.7" />
<line x1="141.00" y1="771.30" x2="142.80" y2="771.30" stroke="#777" stroke-width="0.7" />
<text x="221" y="596.8" font-size="9" fill="#111" text-anchor="start" font-weight="normal" stroke="#111" stroke-width="0.22" >UAE</text>
<text x="218.8" y="624.3" font-size="11.5" fill="#111" text-anchor="middle" font-weight="normal" stroke="#111" stroke-width="0.22" transform="rotate(-90 218.8 624.3)">H3ac</text>
<text x="248.2" y="624.3" font-size="11.5" fill="#111" text-anchor="middle" font-weight="normal" stroke="#111" stroke-width="0.22" transform="rotate(-90 248.2 624.3)">H4ac</text>
<rect x="201.50" y="646.50" width="27.20" height="21.80" fill="#888634" stroke="none" stroke-width="0" />
<rect x="227.70" y="646.50" width="26.30" height="21.80" fill="#807f38" stroke="none" stroke-width="0" />
<rect x="201.50" y="667.30" width="27.20" height="21.50" fill="#070709" stroke="none" stroke-width="0" />
<rect x="227.70" y="667.30" width="26.30" height="21.50" fill="#82803a" stroke="none" stroke-width="0" />
<rect x="201.50" y="687.80" width="27.20" height="22.60" fill="#a9a73e" stroke="none" stroke-width="0" />
<rect x="227.70" y="687.80" width="26.30" height="22.60" fill="#0f0f24" stroke="none" stroke-width="0" />
<rect x="201.50" y="709.40" width="27.20" height="18.80" fill="#12124a" stroke="none" stroke-width="0" />
<rect x="227.70" y="709.40" width="26.30" height="18.80" fill="#141658" stroke="none" stroke-width="0" />
<text x="257.6" y="657.9" font-size="9.2" fill="#111" text-anchor="start" font-weight="bold" >n= 3082</text>
<text x="257.6" y="679.5" font-size="9.2" fill="#111" text-anchor="start" font-weight="bold" >n= 2272</text>
<text x="257.6" y="701.5" font-size="9.2" fill="#111" text-anchor="start" font-weight="bold" >n= 2104</text>
<text x="257.6" y="723.6" font-size="9.2" fill="#111" text-anchor="start" font-weight="bold" >n= 2177</text>
<text x="185.2" y="678" font-size="9.2" fill="#222" text-anchor="middle" font-weight="normal" stroke="#222" stroke-width="0.22" transform="rotate(-90 185.2 678)">ratio plus zinc</text>
<text x="196.8" y="676.3" font-size="9.2" fill="#222" text-anchor="middle" font-weight="normal" stroke="#222" stroke-width="0.22" transform="rotate(-90 196.8 676.3)">/ no zinc</text>
<rect x="195.40" y="749.40" width="65.30" height="4.40" fill="url(#gF)" stroke="none" stroke-width="0" />
<text x="192" y="755.1" font-size="9.5" fill="#222" text-anchor="end" font-weight="normal" stroke="#222" stroke-width="0.22" >-0.5</text>
<text x="264" y="755.1" font-size="9.5" fill="#222" text-anchor="start" font-weight="normal" stroke="#222" stroke-width="0.22" >0.5</text>
<line x1="357.00" y1="24.60" x2="357.00" y2="155.80" stroke="#999" stroke-width="1" />
<line x1="357.00" y1="155.80" x2="513.50" y2="155.80" stroke="#999" stroke-width="1" />
<line x1="354.50" y1="155.80" x2="357.00" y2="155.80" stroke="#999" stroke-width="0.8" />
<text x="347.7" y="158.9" font-size="9.7" fill="#222" text-anchor="end" font-weight="normal" stroke="#222" stroke-width="0.15" >0</text>
<line x1="354.50" y1="139.40" x2="357.00" y2="139.40" stroke="#999" stroke-width="0.8" />
<text x="347.7" y="142.5" font-size="9.7" fill="#222" text-anchor="end" font-weight="normal" stroke="#222" stroke-width="0.15" >2</text>
<line x1="354.50" y1="123.00" x2="357.00" y2="123.00" stroke="#999" stroke-width="0.8" />
<text x="347.7" y="126.10000000000001" font-size="9.7" fill="#222" text-anchor="end" font-weight="normal" stroke="#222" stroke-width="0.15" >4</text>
<line x1="354.50" y1="106.60" x2="357.00" y2="106.60" stroke="#999" stroke-width="0.8" />
<text x="347.7" y="109.70000000000002" font-size="9.7" fill="#222" text-anchor="end" font-weight="normal" stroke="#222" stroke-width="0.15" >6</text>
<line x1="354.50" y1="90.20" x2="357.00" y2="90.20" stroke="#999" stroke-width="0.8" />
<text x="347.7" y="93.30000000000001" font-size="9.7" fill="#222" text-anchor="end" font-weight="normal" stroke="#222" stroke-width="0.15" >8</text>
<line x1="354.50" y1="73.80" x2="357.00" y2="73.80" stroke="#999" stroke-width="0.8" />
<text x="347.7" y="76.9" font-size="9.7" fill="#222" text-anchor="end" font-weight="normal" stroke="#222" stroke-width="0.15" >10</text>
<line x1="354.50" y1="57.40" x2="357.00" y2="57.40" stroke="#999" stroke-width="0.8" />
<text x="347.7" y="60.50000000000002" font-size="9.7" fill="#222" text-anchor="end" font-weight="normal" stroke="#222" stroke-width="0.15" >12</text>
<line x1="354.50" y1="41.00" x2="357.00" y2="41.00" stroke="#999" stroke-width="0.8" />
<text x="347.7" y="44.10000000000003" font-size="9.7" fill="#222" text-anchor="end" font-weight="normal" stroke="#222" stroke-width="0.15" >14</text>
<line x1="354.50" y1="24.60" x2="357.00" y2="24.60" stroke="#999" stroke-width="0.8" />
<text x="347.7" y="27.700000000000024" font-size="9.7" fill="#222" text-anchor="end" font-weight="normal" stroke="#222" stroke-width="0.15" >16</text>
<line x1="357.00" y1="155.80" x2="357.00" y2="158.30" stroke="#999" stroke-width="0.8" />
<line x1="372.65" y1="155.80" x2="372.65" y2="158.30" stroke="#999" stroke-width="0.8" />
<line x1="388.30" y1="155.80" x2="388.30" y2="158.30" stroke="#999" stroke-width="0.8" />
<line x1="403.95" y1="155.80" x2="403.95" y2="158.30" stroke="#999" stroke-width="0.8" />
<line x1="419.60" y1="155.80" x2="419.60" y2="158.30" stroke="#999" stroke-width="0.8" />
<line x1="435.25" y1="155.80" x2="435.25" y2="158.30" stroke="#999" stroke-width="0.8" />
<line x1="450.90" y1="155.80" x2="450.90" y2="158.30" stroke="#999" stroke-width="0.8" />
<line x1="466.55" y1="155.80" x2="466.55" y2="158.30" stroke="#999" stroke-width="0.8" />
<line x1="482.20" y1="155.80" x2="482.20" y2="158.30" stroke="#999" stroke-width="0.8" />
<line x1="497.85" y1="155.80" x2="497.85" y2="158.30" stroke="#999" stroke-width="0.8" />
<line x1="513.50" y1="155.80" x2="513.50" y2="158.30" stroke="#999" stroke-width="0.8" />
<text x="365.3" y="169.3" font-size="7.6" fill="#222" text-anchor="middle" font-weight="normal" stroke="#222" stroke-width="0.22" >1</text>
<text x="380.83" y="169.3" font-size="7.6" fill="#222" text-anchor="middle" font-weight="normal" stroke="#222" stroke-width="0.22" >2</text>
<text x="396.36" y="169.3" font-size="7.6" fill="#222" text-anchor="middle" font-weight="normal" stroke="#222" stroke-width="0.22" >3</text>
<text x="411.89" y="169.3" font-size="7.6" fill="#222" text-anchor="middle" font-weight="normal" stroke="#222" stroke-width="0.22" >4</text>
<text x="427.42" y="169.3" font-size="7.6" fill="#222" text-anchor="middle" font-weight="normal" stroke="#222" stroke-width="0.22" >5</text>
<text x="442.95" y="169.3" font-size="7.6" fill="#222" text-anchor="middle" font-weight="normal" stroke="#222" stroke-width="0.22" >6</text>
<text x="458.48" y="169.3" font-size="7.6" fill="#222" text-anchor="middle" font-weight="normal" stroke="#222" stroke-width="0.22" >7</text>
<text x="474.01" y="169.3" font-size="7.6" fill="#222" text-anchor="middle" font-weight="normal" stroke="#222" stroke-width="0.22" >8</text>
<text x="489.54" y="169.3" font-size="7.6" fill="#222" text-anchor="middle" font-weight="normal" stroke="#222" stroke-width="0.22" >9</text>
<text x="505.07" y="169.3" font-size="7.6" fill="#222" text-anchor="middle" font-weight="normal" stroke="#222" stroke-width="0.22" >10</text>
<text x="414" y="22.2" font-size="9" fill="#111" text-anchor="start" font-weight="normal" stroke="#111" stroke-width="0.22" >AML1-ETO</text>
<text x="438.25" y="180.3" font-size="9.1" fill="#222" text-anchor="middle" font-weight="normal" stroke="#222" stroke-width="0.22" >ERG binding sites t(8;21) patient</text>
<text x="330" y="84.3" font-size="7.8" fill="#222" text-anchor="middle" font-weight="normal" stroke="#222" stroke-width="0.22" transform="rotate(-90 330 84.3)">% tags/kb (10<tspan font-size="5" dy="-2.5">-4</tspan><tspan dy="2.5">)</tspan></text>
<rect x="358.70" y="150.60" width="13.20" height="3.40" fill="#6a3434" stroke="#120606" stroke-width="1.1" rx="1"/>
<rect x="374.23" y="146.60" width="13.20" height="3.00" fill="#2a1212" stroke="#120606" stroke-width="1.1" rx="1"/>
<rect x="389.76" y="143.90" width="13.20" height="2.80" fill="#2a1212" stroke="#120606" stroke-width="1.1" rx="1"/>
<rect x="405.29" y="141.40" width="13.20" height="2.80" fill="#2a1212" stroke="#120606" stroke-width="1.1" rx="1"/>
<rect x="420.82" y="138.60" width="13.20" height="2.80" fill="#2a1212" stroke="#120606" stroke-width="1.1" rx="1"/>
<rect x="436.35" y="135.80" width="13.20" height="2.80" fill="#2a1212" stroke="#120606" stroke-width="1.1" rx="1"/>
<rect x="451.88" y="132.30" width="13.20" height="3.00" fill="#2a1212" stroke="#120606" stroke-width="1.1" rx="1"/>
<rect x="467.41" y="127.50" width="13.20" height="3.60" fill="#6a3434" stroke="#120606" stroke-width="1.1" rx="1"/>
<line x1="489.54" y1="115.21" x2="489.54" y2="125.46" stroke="#333" stroke-width="1" />
<line x1="487.04" y1="115.21" x2="492.04" y2="115.21" stroke="#333" stroke-width="1.1" />
<line x1="487.04" y1="125.05" x2="492.04" y2="125.05" stroke="#333" stroke-width="1.1" />
<rect x="482.54" y="118.08" width="14.00" height="5.58" fill="#d42a22" stroke="#2a1a18" stroke-width="1.1" />
<line x1="484.04" y1="120.87" x2="495.04" y2="120.87" stroke="#f08a80" stroke-width="0.9" />
<line x1="365.50" y1="122.90" x2="513.50" y2="122.90" stroke="#222" stroke-width="1.3" stroke-dasharray="4,2.6"/>
<line x1="505.80" y1="40.18" x2="505.80" y2="75.28" stroke="#444" stroke-width="1.2" />
<line x1="502.80" y1="40.18" x2="508.80" y2="40.18" stroke="#333" stroke-width="1.3" />
<line x1="505.80" y1="107.26" x2="505.80" y2="111.68" stroke="#444" stroke-width="1.2" />
<line x1="502.80" y1="111.68" x2="508.80" y2="111.68" stroke="#333" stroke-width="1.3" />
<rect x="498.60" y="75.28" width="14.40" height="21.48" fill="#e8341f" stroke="none" stroke-width="0" />
<rect x="498.60" y="96.76" width="14.40" height="10.50" fill="#f4a3a3" stroke="none" stroke-width="0" />
<line x1="498.60" y1="96.76" x2="513.00" y2="96.76" stroke="#5a2020" stroke-width="1.1" />
<rect x="498.60" y="75.28" width="14.40" height="31.98" fill="none" stroke="#3a2a2a" stroke-width="1.3" />
<line x1="359.50" y1="201.60" x2="359.50" y2="342.00" stroke="#999" stroke-width="1" />
<line x1="359.50" y1="342.00" x2="515.00" y2="342.00" stroke="#999" stroke-width="1" />
<line x1="357.00" y1="342.00" x2="359.50" y2="342.00" stroke="#999" stroke-width="0.8" />
<text x="350.2" y="345.1" font-size="9.7" fill="#222" text-anchor="end" font-weight="normal" stroke="#222" stroke-width="0.15" >0</text>
<line x1="357.00" y1="306.90" x2="359.50" y2="306.90" stroke="#999" stroke-width="0.8" />
<text x="350.2" y="310.0" font-size="9.7" fill="#222" text-anchor="end" font-weight="normal" stroke="#222" stroke-width="0.15" >1</text>
<line x1="357.00" y1="271.80" x2="359.50" y2="271.80" stroke="#999" stroke-width="0.8" />
<text x="350.2" y="274.90000000000003" font-size="9.7" fill="#222" text-anchor="end" font-weight="normal" stroke="#222" stroke-width="0.15" >2</text>
<line x1="357.00" y1="236.70" x2="359.50" y2="236.70" stroke="#999" stroke-width="0.8" />
<text x="350.2" y="239.79999999999998" font-size="9.7" fill="#222" text-anchor="end" font-weight="normal" stroke="#222" stroke-width="0.15" >3</text>
<line x1="357.00" y1="201.60" x2="359.50" y2="201.60" stroke="#999" stroke-width="0.8" />
<text x="350.2" y="204.7" font-size="9.7" fill="#222" text-anchor="end" font-weight="normal" stroke="#222" stroke-width="0.15" >4</text>
<line x1="359.50" y1="342.00" x2="359.50" y2="344.50" stroke="#999" stroke-width="0.8" />
<line x1="375.05" y1="342.00" x2="375.05" y2="344.50" stroke="#999" stroke-width="0.8" />
<line x1="390.60" y1="342.00" x2="390.60" y2="344.50" stroke="#999" stroke-width="0.8" />
<line x1="406.15" y1="342.00" x2="406.15" y2="344.50" stroke="#999" stroke-width="0.8" />
<line x1="421.70" y1="342.00" x2="421.70" y2="344.50" stroke="#999" stroke-width="0.8" />
<line x1="437.25" y1="342.00" x2="437.25" y2="344.50" stroke="#999" stroke-width="0.8" />
<line x1="452.80" y1="342.00" x2="452.80" y2="344.50" stroke="#999" stroke-width="0.8" />
<line x1="468.35" y1="342.00" x2="468.35" y2="344.50" stroke="#999" stroke-width="0.8" />
<line x1="483.90" y1="342.00" x2="483.90" y2="344.50" stroke="#999" stroke-width="0.8" />
<line x1="499.45" y1="342.00" x2="499.45" y2="344.50" stroke="#999" stroke-width="0.8" />
<line x1="515.00" y1="342.00" x2="515.00" y2="344.50" stroke="#999" stroke-width="0.8" />
<text x="367.3" y="354.2" font-size="7.6" fill="#222" text-anchor="middle" font-weight="normal" stroke="#222" stroke-width="0.22" >1</text>
<text x="382.82" y="354.2" font-size="7.6" fill="#222" text-anchor="middle" font-weight="normal" stroke="#222" stroke-width="0.22" >2</text>
<text x="398.34000000000003" y="354.2" font-size="7.6" fill="#222" text-anchor="middle" font-weight="normal" stroke="#222" stroke-width="0.22" >3</text>
<text x="413.86" y="354.2" font-size="7.6" fill="#222" text-anchor="middle" font-weight="normal" stroke="#222" stroke-width="0.22" >4</text>
<text x="429.38" y="354.2" font-size="7.6" fill="#222" text-anchor="middle" font-weight="normal" stroke="#222" stroke-width="0.22" >5</text>
<text x="444.9" y="354.2" font-size="7.6" fill="#222" text-anchor="middle" font-weight="normal" stroke="#222" stroke-width="0.22" >6</text>
<text x="460.42" y="354.2" font-size="7.6" fill="#222" text-anchor="middle" font-weight="normal" stroke="#222" stroke-width="0.22" >7</text>
<text x="475.94" y="354.2" font-size="7.6" fill="#222" text-anchor="middle" font-weight="normal" stroke="#222" stroke-width="0.22" >8</text>
<text x="491.46000000000004" y="354.2" font-size="7.6" fill="#222" text-anchor="middle" font-weight="normal" stroke="#222" stroke-width="0.22" >9</text>
<text x="506.98" y="354.2" font-size="7.6" fill="#222" text-anchor="middle" font-weight="normal" stroke="#222" stroke-width="0.22" >10</text>
<text x="419.8" y="208.4" font-size="9.5" fill="#111" text-anchor="start" font-weight="normal" stroke="#111" stroke-width="0.22" >DNAme</text>
<text x="437.3" y="365.2" font-size="9.1" fill="#222" text-anchor="middle" font-weight="normal" stroke="#222" stroke-width="0.22" >ERG binding sites t(8;21) patient</text>
<text x="337.6" y="262.7" font-size="7.8" fill="#222" text-anchor="middle" font-weight="normal" stroke="#222" stroke-width="0.22" transform="rotate(-90 337.6 262.7)">% tags/kb (10<tspan font-size="5" dy="-2.5">-4</tspan><tspan dy="2.5">)</tspan></text>
<line x1="367.30" y1="251.79" x2="367.30" y2="301.28" stroke="#2a2a2a" stroke-width="1.3" />
<line x1="364.50" y1="251.79" x2="370.10" y2="251.79" stroke="#2a2a2a" stroke-width="1.4" />
<rect x="360.00" y="301.28" width="14.60" height="30.54" fill="#24606e" stroke="none" stroke-width="0" />
<rect x="360.00" y="331.82" width="14.60" height="7.02" fill="#3e8c9e" stroke="none" stroke-width="0" />
<line x1="360.00" y1="331.82" x2="374.60" y2="331.82" stroke="#0e2028" stroke-width="1.4" />
<rect x="360.00" y="301.28" width="14.60" height="37.56" fill="none" stroke="#0e2028" stroke-width="1.35" />
<line x1="382.82" y1="266.89" x2="382.82" y2="313.57" stroke="#2a2a2a" stroke-width="1.3" />
<line x1="380.02" y1="266.89" x2="385.62" y2="266.89" stroke="#2a2a2a" stroke-width="1.4" />
<rect x="375.52" y="313.57" width="14.60" height="21.76" fill="#24606e" stroke="none" stroke-width="0" />
<rect x="375.52" y="335.33" width="14.60" height="3.86" fill="#3e8c9e" stroke="none" stroke-width="0" />
<line x1="375.52" y1="335.33" x2="390.12" y2="335.33" stroke="#0e2028" stroke-width="1.4" />
<rect x="375.52" y="313.57" width="14.60" height="25.62" fill="none" stroke="#0e2028" stroke-width="1.35" />
<line x1="398.34" y1="268.64" x2="398.34" y2="325.85" stroke="#2a2a2a" stroke-width="1.3" />
<line x1="395.54" y1="268.64" x2="401.14" y2="268.64" stroke="#2a2a2a" stroke-width="1.4" />
<rect x="391.04" y="325.85" width="14.60" height="11.23" fill="#24606e" stroke="none" stroke-width="0" />
<rect x="391.04" y="337.09" width="14.60" height="2.81" fill="#3e8c9e" stroke="none" stroke-width="0" />
<line x1="391.04" y1="337.09" x2="405.64" y2="337.09" stroke="#0e2028" stroke-width="1.4" />
<rect x="391.04" y="325.85" width="14.60" height="14.04" fill="none" stroke="#0e2028" stroke-width="1.35" />
<line x1="413.86" y1="281.63" x2="413.86" y2="330.42" stroke="#2a2a2a" stroke-width="1.3" />
<line x1="411.06" y1="281.63" x2="416.66" y2="281.63" stroke="#2a2a2a" stroke-width="1.4" />
<rect x="406.56" y="330.42" width="14.60" height="7.37" fill="#24606e" stroke="none" stroke-width="0" />
<rect x="406.56" y="337.79" width="14.60" height="2.11" fill="#3e8c9e" stroke="none" stroke-width="0" />
<line x1="406.56" y1="337.79" x2="421.16" y2="337.79" stroke="#0e2028" stroke-width="1.4" />
<rect x="406.56" y="330.42" width="14.60" height="9.48" fill="none" stroke="#0e2028" stroke-width="1.35" />
<line x1="429.38" y1="303.04" x2="429.38" y2="332.87" stroke="#2a2a2a" stroke-width="1.3" />
<line x1="426.58" y1="303.04" x2="432.18" y2="303.04" stroke="#2a2a2a" stroke-width="1.4" />
<rect x="422.08" y="332.87" width="14.60" height="5.62" fill="#24606e" stroke="none" stroke-width="0" />
<rect x="422.08" y="338.49" width="14.60" height="1.75" fill="#3e8c9e" stroke="none" stroke-width="0" />
<line x1="422.08" y1="338.49" x2="436.68" y2="338.49" stroke="#0e2028" stroke-width="1.4" />
<rect x="422.08" y="332.87" width="14.60" height="7.37" fill="none" stroke="#0e2028" stroke-width="1.35" />
<line x1="444.90" y1="314.27" x2="444.90" y2="334.28" stroke="#2a2a2a" stroke-width="1.3" />
<line x1="442.10" y1="314.27" x2="447.70" y2="314.27" stroke="#2a2a2a" stroke-width="1.4" />
<rect x="437.60" y="334.28" width="14.60" height="4.21" fill="#24606e" stroke="none" stroke-width="0" />
<rect x="437.60" y="338.49" width="14.60" height="1.75" fill="#3e8c9e" stroke="none" stroke-width="0" />
<line x1="437.60" y1="338.49" x2="452.20" y2="338.49" stroke="#0e2028" stroke-width="1.4" />
<rect x="437.60" y="334.28" width="14.60" height="5.97" fill="none" stroke="#0e2028" stroke-width="1.35" />
<line x1="460.42" y1="322.69" x2="460.42" y2="335.33" stroke="#2a2a2a" stroke-width="1.3" />
<line x1="457.62" y1="322.69" x2="463.22" y2="322.69" stroke="#2a2a2a" stroke-width="1.4" />
<rect x="453.12" y="335.33" width="14.60" height="3.51" fill="#24606e" stroke="none" stroke-width="0" />
<rect x="453.12" y="338.84" width="14.60" height="1.40" fill="#3e8c9e" stroke="none" stroke-width="0" />
<line x1="453.12" y1="338.84" x2="467.72" y2="338.84" stroke="#0e2028" stroke-width="1.4" />
<rect x="453.12" y="335.33" width="14.60" height="4.91" fill="none" stroke="#0e2028" stroke-width="1.35" />
<line x1="475.94" y1="326.56" x2="475.94" y2="335.33" stroke="#2a2a2a" stroke-width="1.3" />
<line x1="473.14" y1="326.56" x2="478.74" y2="326.56" stroke="#2a2a2a" stroke-width="1.4" />
<rect x="468.64" y="335.33" width="14.60" height="3.51" fill="#24606e" stroke="none" stroke-width="0" />
<rect x="468.64" y="338.84" width="14.60" height="1.40" fill="#3e8c9e" stroke="none" stroke-width="0" />
<line x1="468.64" y1="338.84" x2="483.24" y2="338.84" stroke="#0e2028" stroke-width="1.4" />
<rect x="468.64" y="335.33" width="14.60" height="4.91" fill="none" stroke="#0e2028" stroke-width="1.35" />
<line x1="491.46" y1="325.50" x2="491.46" y2="334.98" stroke="#2a2a2a" stroke-width="1.3" />
<line x1="488.66" y1="325.50" x2="494.26" y2="325.50" stroke="#2a2a2a" stroke-width="1.4" />
<rect x="484.16" y="334.98" width="14.60" height="3.86" fill="#24606e" stroke="none" stroke-width="0" />
<rect x="484.16" y="338.84" width="14.60" height="1.40" fill="#3e8c9e" stroke="none" stroke-width="0" />
<line x1="484.16" y1="338.84" x2="498.76" y2="338.84" stroke="#0e2028" stroke-width="1.4" />
<rect x="484.16" y="334.98" width="14.60" height="5.26" fill="none" stroke="#0e2028" stroke-width="1.35" />
<line x1="506.98" y1="324.80" x2="506.98" y2="333.93" stroke="#2a2a2a" stroke-width="1.3" />
<line x1="504.18" y1="324.80" x2="509.78" y2="324.80" stroke="#2a2a2a" stroke-width="1.4" />
<rect x="499.68" y="333.93" width="14.60" height="4.56" fill="#24606e" stroke="none" stroke-width="0" />
<rect x="499.68" y="338.49" width="14.60" height="1.75" fill="#3e8c9e" stroke="none" stroke-width="0" />
<line x1="499.68" y1="338.49" x2="514.28" y2="338.49" stroke="#0e2028" stroke-width="1.4" />
<rect x="499.68" y="333.93" width="14.60" height="6.32" fill="none" stroke="#0e2028" stroke-width="1.35" />
<line x1="359.70" y1="393.22" x2="359.70" y2="537.50" stroke="#999" stroke-width="1" />
<line x1="359.70" y1="537.50" x2="513.40" y2="537.50" stroke="#999" stroke-width="1" />
<line x1="357.20" y1="537.50" x2="359.70" y2="537.50" stroke="#999" stroke-width="0.8" />
<text x="350.4" y="540.6" font-size="9.7" fill="#222" text-anchor="end" font-weight="normal" stroke="#222" stroke-width="0.15" >0</text>
<line x1="357.20" y1="519.47" x2="359.70" y2="519.47" stroke="#999" stroke-width="0.8" />
<text x="350.4" y="522.565" font-size="9.7" fill="#222" text-anchor="end" font-weight="normal" stroke="#222" stroke-width="0.15" >5</text>
<line x1="357.20" y1="501.43" x2="359.70" y2="501.43" stroke="#999" stroke-width="0.8" />
<text x="350.4" y="504.53000000000003" font-size="9.7" fill="#222" text-anchor="end" font-weight="normal" stroke="#222" stroke-width="0.15" >10</text>
<line x1="357.20" y1="483.39" x2="359.70" y2="483.39" stroke="#999" stroke-width="0.8" />
<text x="350.4" y="486.495" font-size="9.7" fill="#222" text-anchor="end" font-weight="normal" stroke="#222" stroke-width="0.15" >15</text>
<line x1="357.20" y1="465.36" x2="359.70" y2="465.36" stroke="#999" stroke-width="0.8" />
<text x="350.4" y="468.46000000000004" font-size="9.7" fill="#222" text-anchor="end" font-weight="normal" stroke="#222" stroke-width="0.15" >20</text>
<line x1="357.20" y1="447.32" x2="359.70" y2="447.32" stroke="#999" stroke-width="0.8" />
<text x="350.4" y="450.425" font-size="9.7" fill="#222" text-anchor="end" font-weight="normal" stroke="#222" stroke-width="0.15" >25</text>
<line x1="357.20" y1="429.29" x2="359.70" y2="429.29" stroke="#999" stroke-width="0.8" />
<text x="350.4" y="432.39" font-size="9.7" fill="#222" text-anchor="end" font-weight="normal" stroke="#222" stroke-width="0.15" >30</text>
<line x1="357.20" y1="411.25" x2="359.70" y2="411.25" stroke="#999" stroke-width="0.8" />
<text x="350.4" y="414.355" font-size="9.7" fill="#222" text-anchor="end" font-weight="normal" stroke="#222" stroke-width="0.15" >35</text>
<line x1="357.20" y1="393.22" x2="359.70" y2="393.22" stroke="#999" stroke-width="0.8" />
<text x="350.4" y="396.32000000000005" font-size="9.7" fill="#222" text-anchor="end" font-weight="normal" stroke="#222" stroke-width="0.15" >40</text>
<line x1="359.70" y1="537.50" x2="359.70" y2="540.00" stroke="#999" stroke-width="0.8" />
<line x1="375.07" y1="537.50" x2="375.07" y2="540.00" stroke="#999" stroke-width="0.8" />
<line x1="390.44" y1="537.50" x2="390.44" y2="540.00" stroke="#999" stroke-width="0.8" />
<line x1="405.81" y1="537.50" x2="405.81" y2="540.00" stroke="#999" stroke-width="0.8" />
<line x1="421.18" y1="537.50" x2="421.18" y2="540.00" stroke="#999" stroke-width="0.8" />
<line x1="436.55" y1="537.50" x2="436.55" y2="540.00" stroke="#999" stroke-width="0.8" />
<line x1="451.92" y1="537.50" x2="451.92" y2="540.00" stroke="#999" stroke-width="0.8" />
<line x1="467.29" y1="537.50" x2="467.29" y2="540.00" stroke="#999" stroke-width="0.8" />
<line x1="482.66" y1="537.50" x2="482.66" y2="540.00" stroke="#999" stroke-width="0.8" />
<line x1="498.03" y1="537.50" x2="498.03" y2="540.00" stroke="#999" stroke-width="0.8" />
<line x1="513.40" y1="537.50" x2="513.40" y2="540.00" stroke="#999" stroke-width="0.8" />
<text x="367.4" y="548.9" font-size="7.6" fill="#222" text-anchor="middle" font-weight="normal" stroke="#222" stroke-width="0.22" >1</text>
<text x="382.84999999999997" y="548.9" font-size="7.6" fill="#222" text-anchor="middle" font-weight="normal" stroke="#222" stroke-width="0.22" >2</text>
<text x="398.29999999999995" y="548.9" font-size="7.6" fill="#222" text-anchor="middle" font-weight="normal" stroke="#222" stroke-width="0.22" >3</text>
<text x="413.75" y="548.9" font-size="7.6" fill="#222" text-anchor="middle" font-weight="normal" stroke="#222" stroke-width="0.22" >4</text>
<text x="429.2" y="548.9" font-size="7.6" fill="#222" text-anchor="middle" font-weight="normal" stroke="#222" stroke-width="0.22" >5</text>
<text x="444.65" y="548.9" font-size="7.6" fill="#222" text-anchor="middle" font-weight="normal" stroke="#222" stroke-width="0.22" >6</text>
<text x="460.09999999999997" y="548.9" font-size="7.6" fill="#222" text-anchor="middle" font-weight="normal" stroke="#222" stroke-width="0.22" >7</text>
<text x="475.54999999999995" y="548.9" font-size="7.6" fill="#222" text-anchor="middle" font-weight="normal" stroke="#222" stroke-width="0.22" >8</text>
<text x="491.0" y="548.9" font-size="7.6" fill="#222" text-anchor="middle" font-weight="normal" stroke="#222" stroke-width="0.22" >9</text>
<text x="506.44999999999993" y="548.9" font-size="7.6" fill="#222" text-anchor="middle" font-weight="normal" stroke="#222" stroke-width="0.22" >10</text>
<text x="423.9" y="401.2" font-size="9" fill="#111" text-anchor="start" font-weight="normal" stroke="#111" stroke-width="0.22" >H3ac</text>
<text x="437.5" y="561.8" font-size="9.1" fill="#222" text-anchor="middle" font-weight="normal" stroke="#222" stroke-width="0.22" >ERG binding sites t(8;21) patient</text>
<text x="330.5" y="466" font-size="7.8" fill="#222" text-anchor="middle" font-weight="normal" stroke="#222" stroke-width="0.22" transform="rotate(-90 330.5 466)">% tags/kb (10<tspan font-size="5" dy="-2.5">-4</tspan><tspan dy="2.5">)</tspan></text>
<line x1="367.40" y1="482.67" x2="367.40" y2="517.66" stroke="#2a2a2a" stroke-width="1.3" />
<line x1="364.60" y1="482.67" x2="370.20" y2="482.67" stroke="#2a2a2a" stroke-width="1.4" />
<line x1="367.40" y1="533.17" x2="367.40" y2="536.42" stroke="#2a2a2a" stroke-width="1.3" />
<line x1="364.60" y1="536.42" x2="370.20" y2="536.42" stroke="#2a2a2a" stroke-width="1.4" />
<rect x="360.35" y="517.66" width="14.10" height="11.18" fill="#8f8146" stroke="none" stroke-width="0" />
<rect x="360.35" y="528.84" width="14.10" height="4.33" fill="#dedbc6" stroke="none" stroke-width="0" />
<line x1="360.35" y1="528.84" x2="374.45" y2="528.84" stroke="#2e2a1e" stroke-width="1.4" />
<rect x="360.35" y="517.66" width="14.10" height="15.51" fill="none" stroke="#2e2a1e" stroke-width="1.35" />
<line x1="382.85" y1="459.95" x2="382.85" y2="500.35" stroke="#2a2a2a" stroke-width="1.3" />
<line x1="380.05" y1="459.95" x2="385.65" y2="459.95" stroke="#2a2a2a" stroke-width="1.4" />
<line x1="382.85" y1="530.29" x2="382.85" y2="534.61" stroke="#2a2a2a" stroke-width="1.3" />
<line x1="380.05" y1="534.61" x2="385.65" y2="534.61" stroke="#2a2a2a" stroke-width="1.4" />
<rect x="375.80" y="500.35" width="14.10" height="23.81" fill="#8f8146" stroke="none" stroke-width="0" />
<rect x="375.80" y="524.15" width="14.10" height="6.13" fill="#dedbc6" stroke="none" stroke-width="0" />
<line x1="375.80" y1="524.15" x2="389.90" y2="524.15" stroke="#2e2a1e" stroke-width="1.4" />
<rect x="375.80" y="500.35" width="14.10" height="29.94" fill="none" stroke="#2e2a1e" stroke-width="1.35" />
<line x1="398.30" y1="443.00" x2="398.30" y2="484.48" stroke="#2a2a2a" stroke-width="1.3" />
<line x1="395.50" y1="443.00" x2="401.10" y2="443.00" stroke="#2a2a2a" stroke-width="1.4" />
<line x1="398.30" y1="529.20" x2="398.30" y2="532.81" stroke="#2a2a2a" stroke-width="1.3" />
<line x1="395.50" y1="532.81" x2="401.10" y2="532.81" stroke="#2a2a2a" stroke-width="1.4" />
<rect x="391.25" y="484.48" width="14.10" height="32.82" fill="#8f8146" stroke="none" stroke-width="0" />
<rect x="391.25" y="517.30" width="14.10" height="11.90" fill="#dedbc6" stroke="none" stroke-width="0" />
<line x1="391.25" y1="517.30" x2="405.35" y2="517.30" stroke="#2e2a1e" stroke-width="1.4" />
<rect x="391.25" y="484.48" width="14.10" height="44.73" fill="none" stroke="#2e2a1e" stroke-width="1.35" />
<line x1="413.75" y1="429.29" x2="413.75" y2="471.49" stroke="#2a2a2a" stroke-width="1.3" />
<line x1="410.95" y1="429.29" x2="416.55" y2="429.29" stroke="#2a2a2a" stroke-width="1.4" />
<line x1="413.75" y1="527.04" x2="413.75" y2="530.65" stroke="#2a2a2a" stroke-width="1.3" />
<line x1="410.95" y1="530.65" x2="416.55" y2="530.65" stroke="#2a2a2a" stroke-width="1.4" />
<rect x="406.70" y="471.49" width="14.10" height="36.79" fill="#8f8146" stroke="none" stroke-width="0" />
<rect x="406.70" y="508.28" width="14.10" height="18.76" fill="#dedbc6" stroke="none" stroke-width="0" />
<line x1="406.70" y1="508.28" x2="420.80" y2="508.28" stroke="#2e2a1e" stroke-width="1.4" />
<rect x="406.70" y="471.49" width="14.10" height="55.55" fill="none" stroke="#2e2a1e" stroke-width="1.35" />
<line x1="429.20" y1="424.60" x2="429.20" y2="463.56" stroke="#2a2a2a" stroke-width="1.3" />
<line x1="426.40" y1="424.60" x2="432.00" y2="424.60" stroke="#2a2a2a" stroke-width="1.4" />
<line x1="429.20" y1="525.24" x2="429.20" y2="529.20" stroke="#2a2a2a" stroke-width="1.3" />
<line x1="426.40" y1="529.20" x2="432.00" y2="529.20" stroke="#2a2a2a" stroke-width="1.4" />
<rect x="422.15" y="463.56" width="14.10" height="37.15" fill="#8f8146" stroke="none" stroke-width="0" />
<rect x="422.15" y="500.71" width="14.10" height="24.53" fill="#dedbc6" stroke="none" stroke-width="0" />
<line x1="422.15" y1="500.71" x2="436.25" y2="500.71" stroke="#2e2a1e" stroke-width="1.4" />
<rect x="422.15" y="463.56" width="14.10" height="61.68" fill="none" stroke="#2e2a1e" stroke-width="1.35" />
<line x1="444.65" y1="418.83" x2="444.65" y2="458.15" stroke="#2a2a2a" stroke-width="1.3" />
<line x1="441.85" y1="418.83" x2="447.45" y2="418.83" stroke="#2a2a2a" stroke-width="1.4" />
<line x1="444.65" y1="523.79" x2="444.65" y2="527.76" stroke="#2a2a2a" stroke-width="1.3" />
<line x1="441.85" y1="527.76" x2="447.45" y2="527.76" stroke="#2a2a2a" stroke-width="1.4" />
<rect x="437.60" y="458.15" width="14.10" height="37.87" fill="#8f8146" stroke="none" stroke-width="0" />
<rect x="437.60" y="496.02" width="14.10" height="27.77" fill="#dedbc6" stroke="none" stroke-width="0" />
<line x1="437.60" y1="496.02" x2="451.70" y2="496.02" stroke="#2e2a1e" stroke-width="1.4" />
<rect x="437.60" y="458.15" width="14.10" height="65.65" fill="none" stroke="#2e2a1e" stroke-width="1.35" />
<line x1="460.10" y1="416.67" x2="460.10" y2="458.87" stroke="#2a2a2a" stroke-width="1.3" />
<line x1="457.30" y1="416.67" x2="462.90" y2="416.67" stroke="#2a2a2a" stroke-width="1.4" />
<line x1="460.10" y1="522.35" x2="460.10" y2="525.96" stroke="#2a2a2a" stroke-width="1.3" />
<line x1="457.30" y1="525.96" x2="462.90" y2="525.96" stroke="#2a2a2a" stroke-width="1.4" />
<rect x="453.05" y="458.87" width="14.10" height="36.79" fill="#8f8146" stroke="none" stroke-width="0" />
<rect x="453.05" y="495.66" width="14.10" height="26.69" fill="#dedbc6" stroke="none" stroke-width="0" />
<line x1="453.05" y1="495.66" x2="467.15" y2="495.66" stroke="#2e2a1e" stroke-width="1.4" />
<rect x="453.05" y="458.87" width="14.10" height="63.48" fill="none" stroke="#2e2a1e" stroke-width="1.35" />
<line x1="475.55" y1="415.22" x2="475.55" y2="455.98" stroke="#2a2a2a" stroke-width="1.3" />
<line x1="472.75" y1="415.22" x2="478.35" y2="415.22" stroke="#2a2a2a" stroke-width="1.4" />
<line x1="475.55" y1="520.91" x2="475.55" y2="524.51" stroke="#2a2a2a" stroke-width="1.3" />
<line x1="472.75" y1="524.51" x2="478.35" y2="524.51" stroke="#2a2a2a" stroke-width="1.4" />
<rect x="468.50" y="455.98" width="14.10" height="37.87" fill="#8f8146" stroke="none" stroke-width="0" />
<rect x="468.50" y="493.86" width="14.10" height="27.05" fill="#dedbc6" stroke="none" stroke-width="0" />
<line x1="468.50" y1="493.86" x2="482.60" y2="493.86" stroke="#2e2a1e" stroke-width="1.4" />
<rect x="468.50" y="455.98" width="14.10" height="64.93" fill="none" stroke="#2e2a1e" stroke-width="1.35" />
<line x1="491.00" y1="416.67" x2="491.00" y2="460.31" stroke="#2a2a2a" stroke-width="1.3" />
<line x1="488.20" y1="416.67" x2="493.80" y2="416.67" stroke="#2a2a2a" stroke-width="1.4" />
<line x1="491.00" y1="523.07" x2="491.00" y2="527.04" stroke="#2a2a2a" stroke-width="1.3" />
<line x1="488.20" y1="527.04" x2="493.80" y2="527.04" stroke="#2a2a2a" stroke-width="1.4" />
<rect x="483.95" y="460.31" width="14.10" height="38.23" fill="#8f8146" stroke="none" stroke-width="0" />
<rect x="483.95" y="498.54" width="14.10" height="24.53" fill="#dedbc6" stroke="none" stroke-width="0" />
<line x1="483.95" y1="498.54" x2="498.05" y2="498.54" stroke="#2e2a1e" stroke-width="1.4" />
<rect x="483.95" y="460.31" width="14.10" height="62.76" fill="none" stroke="#2e2a1e" stroke-width="1.35" />
<line x1="506.45" y1="438.67" x2="506.45" y2="487.36" stroke="#2a2a2a" stroke-width="1.3" />
<line x1="503.65" y1="438.67" x2="509.25" y2="438.67" stroke="#2a2a2a" stroke-width="1.4" />
<line x1="506.45" y1="527.76" x2="506.45" y2="532.45" stroke="#2a2a2a" stroke-width="1.3" />
<line x1="503.65" y1="532.45" x2="509.25" y2="532.45" stroke="#2a2a2a" stroke-width="1.4" />
<rect x="499.40" y="487.36" width="14.10" height="32.46" fill="#8f8146" stroke="none" stroke-width="0" />
<rect x="499.40" y="519.83" width="14.10" height="7.94" fill="#dedbc6" stroke="none" stroke-width="0" />
<line x1="499.40" y1="519.83" x2="513.50" y2="519.83" stroke="#2e2a1e" stroke-width="1.4" />
<rect x="499.40" y="487.36" width="14.10" height="40.40" fill="none" stroke="#2e2a1e" stroke-width="1.35" />
<line x1="357.50" y1="601.51" x2="357.50" y2="745.50" stroke="#999" stroke-width="1" />
<line x1="357.50" y1="745.50" x2="512.00" y2="745.50" stroke="#999" stroke-width="1" />
<line x1="355.00" y1="745.50" x2="357.50" y2="745.50" stroke="#999" stroke-width="0.8" />
<text x="348.2" y="748.6" font-size="9.7" fill="#222" text-anchor="end" font-weight="normal" stroke="#222" stroke-width="0.15" >4</text>
<line x1="355.00" y1="724.93" x2="357.50" y2="724.93" stroke="#999" stroke-width="0.8" />
<text x="348.2" y="728.03" font-size="9.7" fill="#222" text-anchor="end" font-weight="normal" stroke="#222" stroke-width="0.15" >5</text>
<line x1="355.00" y1="704.36" x2="357.50" y2="704.36" stroke="#999" stroke-width="0.8" />
<text x="348.2" y="707.46" font-size="9.7" fill="#222" text-anchor="end" font-weight="normal" stroke="#222" stroke-width="0.15" >6</text>
<line x1="355.00" y1="683.79" x2="357.50" y2="683.79" stroke="#999" stroke-width="0.8" />
<text x="348.2" y="686.89" font-size="9.7" fill="#222" text-anchor="end" font-weight="normal" stroke="#222" stroke-width="0.15" >7</text>
<line x1="355.00" y1="663.22" x2="357.50" y2="663.22" stroke="#999" stroke-width="0.8" />
<text x="348.2" y="666.32" font-size="9.7" fill="#222" text-anchor="end" font-weight="normal" stroke="#222" stroke-width="0.15" >8</text>
<line x1="355.00" y1="642.65" x2="357.50" y2="642.65" stroke="#999" stroke-width="0.8" />
<text x="348.2" y="645.75" font-size="9.7" fill="#222" text-anchor="end" font-weight="normal" stroke="#222" stroke-width="0.15" >9</text>
<line x1="355.00" y1="622.08" x2="357.50" y2="622.08" stroke="#999" stroke-width="0.8" />
<text x="348.2" y="625.1800000000001" font-size="9.7" fill="#222" text-anchor="end" font-weight="normal" stroke="#222" stroke-width="0.15" >10</text>
<line x1="355.00" y1="601.51" x2="357.50" y2="601.51" stroke="#999" stroke-width="0.8" />
<text x="348.2" y="604.61" font-size="9.7" fill="#222" text-anchor="end" font-weight="normal" stroke="#222" stroke-width="0.15" >11</text>
<line x1="357.50" y1="745.50" x2="357.50" y2="748.00" stroke="#999" stroke-width="0.8" />
<line x1="372.95" y1="745.50" x2="372.95" y2="748.00" stroke="#999" stroke-width="0.8" />
<line x1="388.40" y1="745.50" x2="388.40" y2="748.00" stroke="#999" stroke-width="0.8" />
<line x1="403.85" y1="745.50" x2="403.85" y2="748.00" stroke="#999" stroke-width="0.8" />
<line x1="419.30" y1="745.50" x2="419.30" y2="748.00" stroke="#999" stroke-width="0.8" />
<line x1="434.75" y1="745.50" x2="434.75" y2="748.00" stroke="#999" stroke-width="0.8" />
<line x1="450.20" y1="745.50" x2="450.20" y2="748.00" stroke="#999" stroke-width="0.8" />
<line x1="465.65" y1="745.50" x2="465.65" y2="748.00" stroke="#999" stroke-width="0.8" />
<line x1="481.10" y1="745.50" x2="481.10" y2="748.00" stroke="#999" stroke-width="0.8" />
<line x1="496.55" y1="745.50" x2="496.55" y2="748.00" stroke="#999" stroke-width="0.8" />
<line x1="512.00" y1="745.50" x2="512.00" y2="748.00" stroke="#999" stroke-width="0.8" />
<text x="365.3" y="758.2" font-size="7.6" fill="#222" text-anchor="middle" font-weight="normal" stroke="#222" stroke-width="0.22" >1</text>
<text x="380.75" y="758.2" font-size="7.6" fill="#222" text-anchor="middle" font-weight="normal" stroke="#222" stroke-width="0.22" >2</text>
<text x="396.2" y="758.2" font-size="7.6" fill="#222" text-anchor="middle" font-weight="normal" stroke="#222" stroke-width="0.22" >3</text>
<text x="411.65" y="758.2" font-size="7.6" fill="#222" text-anchor="middle" font-weight="normal" stroke="#222" stroke-width="0.22" >4</text>
<text x="427.1" y="758.2" font-size="7.6" fill="#222" text-anchor="middle" font-weight="normal" stroke="#222" stroke-width="0.22" >5</text>
<text x="442.55" y="758.2" font-size="7.6" fill="#222" text-anchor="middle" font-weight="normal" stroke="#222" stroke-width="0.22" >6</text>
<text x="458.0" y="758.2" font-size="7.6" fill="#222" text-anchor="middle" font-weight="normal" stroke="#222" stroke-width="0.22" >7</text>
<text x="473.45" y="758.2" font-size="7.6" fill="#222" text-anchor="middle" font-weight="normal" stroke="#222" stroke-width="0.22" >8</text>
<text x="488.9" y="758.2" font-size="7.6" fill="#222" text-anchor="middle" font-weight="normal" stroke="#222" stroke-width="0.22" >9</text>
<text x="504.35" y="758.2" font-size="7.6" fill="#222" text-anchor="middle" font-weight="normal" stroke="#222" stroke-width="0.22" >10</text>
<text x="411.8" y="602.3" font-size="9" fill="#111" text-anchor="start" font-weight="normal" stroke="#111" stroke-width="0.22" >expression</text>
<text x="438.7" y="769.8" font-size="9.1" fill="#222" text-anchor="middle" font-weight="normal" stroke="#222" stroke-width="0.22" >ERG target genes &#160; t(8;21) patient</text>
<text x="330" y="664.5" font-size="7.8" fill="#222" text-anchor="middle" font-weight="normal" stroke="#222" stroke-width="0.22" transform="rotate(-90 330 664.5)">Log2 expression value</text>
<line x1="365.30" y1="629.28" x2="365.30" y2="654.58" stroke="#2a2a2a" stroke-width="1.3" />
<line x1="362.50" y1="629.28" x2="368.10" y2="629.28" stroke="#2a2a2a" stroke-width="1.4" />
<line x1="365.30" y1="704.98" x2="365.30" y2="724.31" stroke="#2a2a2a" stroke-width="1.3" />
<line x1="362.50" y1="724.31" x2="368.10" y2="724.31" stroke="#2a2a2a" stroke-width="1.4" />
<rect x="358.25" y="654.58" width="14.10" height="25.10" fill="#7fa03e" stroke="none" stroke-width="0" />
<rect x="358.25" y="679.68" width="14.10" height="25.30" fill="#56742e" stroke="none" stroke-width="0" />
<line x1="358.25" y1="679.68" x2="372.35" y2="679.68" stroke="#1e2410" stroke-width="1.4" />
<rect x="358.25" y="654.58" width="14.10" height="50.40" fill="none" stroke="#1e2410" stroke-width="1.35" />
<line x1="380.75" y1="627.84" x2="380.75" y2="651.29" stroke="#2a2a2a" stroke-width="1.3" />
<line x1="377.95" y1="627.84" x2="383.55" y2="627.84" stroke="#2a2a2a" stroke-width="1.4" />
<line x1="380.75" y1="697.16" x2="380.75" y2="720.40" stroke="#2a2a2a" stroke-width="1.3" />
<line x1="377.95" y1="720.40" x2="383.55" y2="720.40" stroke="#2a2a2a" stroke-width="1.4" />
<rect x="373.70" y="651.29" width="14.10" height="24.27" fill="#7fa03e" stroke="none" stroke-width="0" />
<rect x="373.70" y="675.56" width="14.10" height="21.60" fill="#56742e" stroke="none" stroke-width="0" />
<line x1="373.70" y1="675.56" x2="387.80" y2="675.56" stroke="#1e2410" stroke-width="1.4" />
<rect x="373.70" y="651.29" width="14.10" height="45.87" fill="none" stroke="#1e2410" stroke-width="1.35" />
<line x1="396.20" y1="627.63" x2="396.20" y2="648.62" stroke="#2a2a2a" stroke-width="1.3" />
<line x1="393.40" y1="627.63" x2="399.00" y2="627.63" stroke="#2a2a2a" stroke-width="1.4" />
<line x1="396.20" y1="695.31" x2="396.20" y2="721.84" stroke="#2a2a2a" stroke-width="1.3" />
<line x1="393.40" y1="721.84" x2="399.00" y2="721.84" stroke="#2a2a2a" stroke-width="1.4" />
<rect x="389.15" y="648.62" width="14.10" height="23.45" fill="#7fa03e" stroke="none" stroke-width="0" />
<rect x="389.15" y="672.07" width="14.10" height="23.24" fill="#56742e" stroke="none" stroke-width="0" />
<line x1="389.15" y1="672.07" x2="403.25" y2="672.07" stroke="#1e2410" stroke-width="1.4" />
<rect x="389.15" y="648.62" width="14.10" height="46.69" fill="none" stroke="#1e2410" stroke-width="1.35" />
<line x1="411.65" y1="621.05" x2="411.65" y2="644.71" stroke="#2a2a2a" stroke-width="1.3" />
<line x1="408.85" y1="621.05" x2="414.45" y2="621.05" stroke="#2a2a2a" stroke-width="1.4" />
<line x1="411.65" y1="693.25" x2="411.65" y2="717.94" stroke="#2a2a2a" stroke-width="1.3" />
<line x1="408.85" y1="717.94" x2="414.45" y2="717.94" stroke="#2a2a2a" stroke-width="1.4" />
<rect x="404.60" y="644.71" width="14.10" height="24.48" fill="#7fa03e" stroke="none" stroke-width="0" />
<rect x="404.60" y="669.19" width="14.10" height="24.07" fill="#56742e" stroke="none" stroke-width="0" />
<line x1="404.60" y1="669.19" x2="418.70" y2="669.19" stroke="#1e2410" stroke-width="1.4" />
<rect x="404.60" y="644.71" width="14.10" height="48.55" fill="none" stroke="#1e2410" stroke-width="1.35" />
<line x1="427.10" y1="616.94" x2="427.10" y2="641.21" stroke="#2a2a2a" stroke-width="1.3" />
<line x1="424.30" y1="616.94" x2="429.90" y2="616.94" stroke="#2a2a2a" stroke-width="1.4" />
<line x1="427.10" y1="687.90" x2="427.10" y2="712.59" stroke="#2a2a2a" stroke-width="1.3" />
<line x1="424.30" y1="712.59" x2="429.90" y2="712.59" stroke="#2a2a2a" stroke-width="1.4" />
<rect x="420.05" y="641.21" width="14.10" height="23.45" fill="#7fa03e" stroke="none" stroke-width="0" />
<rect x="420.05" y="664.66" width="14.10" height="23.24" fill="#56742e" stroke="none" stroke-width="0" />
<line x1="420.05" y1="664.66" x2="434.15" y2="664.66" stroke="#1e2410" stroke-width="1.4" />
<rect x="420.05" y="641.21" width="14.10" height="46.69" fill="none" stroke="#1e2410" stroke-width="1.35" />
<line x1="442.55" y1="615.50" x2="442.55" y2="640.18" stroke="#2a2a2a" stroke-width="1.3" />
<line x1="439.75" y1="615.50" x2="445.35" y2="615.50" stroke="#2a2a2a" stroke-width="1.4" />
<line x1="442.55" y1="685.85" x2="442.55" y2="713.21" stroke="#2a2a2a" stroke-width="1.3" />
<line x1="439.75" y1="713.21" x2="445.35" y2="713.21" stroke="#2a2a2a" stroke-width="1.4" />
<rect x="435.50" y="640.18" width="14.10" height="22.22" fill="#7fa03e" stroke="none" stroke-width="0" />
<rect x="435.50" y="662.40" width="14.10" height="23.45" fill="#56742e" stroke="none" stroke-width="0" />
<line x1="435.50" y1="662.40" x2="449.60" y2="662.40" stroke="#1e2410" stroke-width="1.4" />
<rect x="435.50" y="640.18" width="14.10" height="45.67" fill="none" stroke="#1e2410" stroke-width="1.35" />
<line x1="458.00" y1="612.82" x2="458.00" y2="640.59" stroke="#2a2a2a" stroke-width="1.3" />
<line x1="455.20" y1="612.82" x2="460.80" y2="612.82" stroke="#2a2a2a" stroke-width="1.4" />
<line x1="458.00" y1="686.88" x2="458.00" y2="713.62" stroke="#2a2a2a" stroke-width="1.3" />
<line x1="455.20" y1="713.62" x2="460.80" y2="713.62" stroke="#2a2a2a" stroke-width="1.4" />
<rect x="450.95" y="640.59" width="14.10" height="22.63" fill="#7fa03e" stroke="none" stroke-width="0" />
<rect x="450.95" y="663.22" width="14.10" height="23.66" fill="#56742e" stroke="none" stroke-width="0" />
<line x1="450.95" y1="663.22" x2="465.05" y2="663.22" stroke="#1e2410" stroke-width="1.4" />
<rect x="450.95" y="640.59" width="14.10" height="46.28" fill="none" stroke="#1e2410" stroke-width="1.35" />
<line x1="473.45" y1="612.82" x2="473.45" y2="641.00" stroke="#2a2a2a" stroke-width="1.3" />
<line x1="470.65" y1="612.82" x2="476.25" y2="612.82" stroke="#2a2a2a" stroke-width="1.4" />
<line x1="473.45" y1="686.88" x2="473.45" y2="711.56" stroke="#2a2a2a" stroke-width="1.3" />
<line x1="470.65" y1="711.56" x2="476.25" y2="711.56" stroke="#2a2a2a" stroke-width="1.4" />
<rect x="466.40" y="641.00" width="14.10" height="21.39" fill="#7fa03e" stroke="none" stroke-width="0" />
<rect x="466.40" y="662.40" width="14.10" height="24.48" fill="#56742e" stroke="none" stroke-width="0" />
<line x1="466.40" y1="662.40" x2="480.50" y2="662.40" stroke="#1e2410" stroke-width="1.4" />
<rect x="466.40" y="641.00" width="14.10" height="45.87" fill="none" stroke="#1e2410" stroke-width="1.35" />
<line x1="488.90" y1="612.82" x2="488.90" y2="639.77" stroke="#2a2a2a" stroke-width="1.3" />
<line x1="486.10" y1="612.82" x2="491.70" y2="612.82" stroke="#2a2a2a" stroke-width="1.4" />
<line x1="488.90" y1="686.26" x2="488.90" y2="710.94" stroke="#2a2a2a" stroke-width="1.3" />
<line x1="486.10" y1="710.94" x2="491.70" y2="710.94" stroke="#2a2a2a" stroke-width="1.4" />
<rect x="481.85" y="639.77" width="14.10" height="22.63" fill="#7fa03e" stroke="none" stroke-width="0" />
<rect x="481.85" y="662.40" width="14.10" height="23.86" fill="#56742e" stroke="none" stroke-width="0" />
<line x1="481.85" y1="662.40" x2="495.95" y2="662.40" stroke="#1e2410" stroke-width="1.4" />
<rect x="481.85" y="639.77" width="14.10" height="46.49" fill="none" stroke="#1e2410" stroke-width="1.35" />
<line x1="504.35" y1="617.97" x2="504.35" y2="644.09" stroke="#2a2a2a" stroke-width="1.3" />
<line x1="501.55" y1="617.97" x2="507.15" y2="617.97" stroke="#2a2a2a" stroke-width="1.4" />
<line x1="504.35" y1="685.02" x2="504.35" y2="711.97" stroke="#2a2a2a" stroke-width="1.3" />
<line x1="501.55" y1="711.97" x2="507.15" y2="711.97" stroke="#2a2a2a" stroke-width="1.4" />
<rect x="497.30" y="644.09" width="14.10" height="20.36" fill="#7fa03e" stroke="none" stroke-width="0" />
<rect x="497.30" y="664.45" width="14.10" height="20.57" fill="#56742e" stroke="none" stroke-width="0" />
<line x1="497.30" y1="664.45" x2="511.40" y2="664.45" stroke="#1e2410" stroke-width="1.4" />
<rect x="497.30" y="644.09" width="14.10" height="40.93" fill="none" stroke="#1e2410" stroke-width="1.35" />
<text x="478.6" y="595.5" font-size="7.9" fill="#222" text-anchor="start" font-weight="normal" stroke="#222" stroke-width="0.22" >p = 0.008</text>
<path d="M488.4,605.8 V598.8 H505.4 V612.5" fill="none" stroke="#222" stroke-width="1.2"/></svg>
</body></html>
